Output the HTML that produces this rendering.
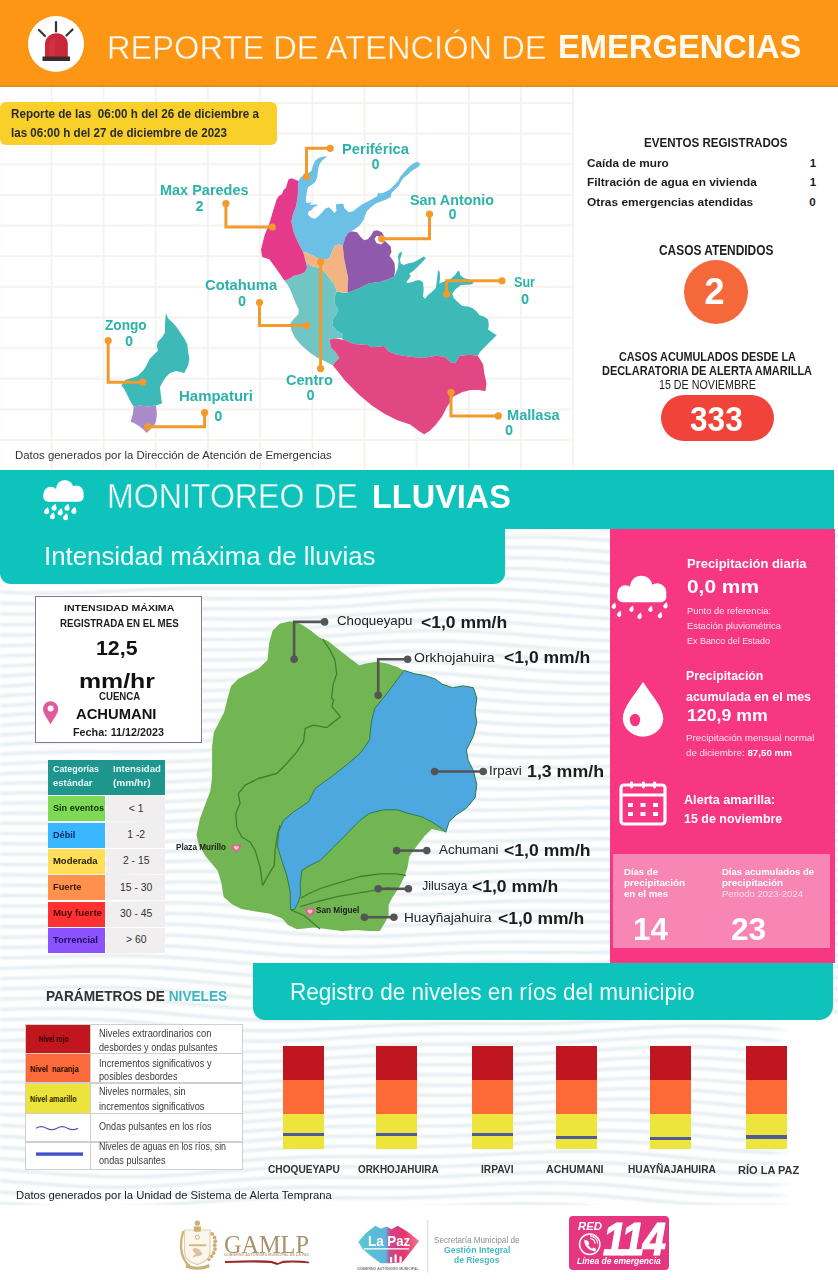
<!DOCTYPE html>
<html><head><meta charset="utf-8"><title>Reporte de Atención de Emergencias</title>
<style>
html,body{margin:0;padding:0;}
body{width:838px;height:1280px;position:relative;overflow:hidden;background:#fff;font-family:'Liberation Sans', Arial, sans-serif;}
</style></head><body>
<svg width="838" height="676" viewBox="0 529 838 676" style="position:absolute;left:0;top:529px"><defs><filter id="wb" x="-5%" y="-5%" width="110%" height="110%"><feGaussianBlur stdDeviation="0.9"/></filter></defs><g fill="none" stroke="#e6eef1" stroke-width="3.4" filter="url(#wb)"><polyline points="0,524.0 20,525.9 40,527.6 60,529.0 80,529.9 100,530.3 120,530.2 140,529.8 160,529.1 180,528.3 200,527.5 220,526.9 240,526.6 260,526.5 280,526.6 300,526.9 320,527.1 340,527.2 360,527.0 380,526.5 400,525.5 420,524.2 440,522.6 460,520.9 480,519.2 500,517.8 520,516.7 540,516.2 560,516.2 580,516.7 600,517.7 620,519.0 640,520.4 660,521.8 680,523.0 700,523.9 720,524.5 740,524.7 760,524.7 780,524.7 800,524.6 820,524.6 840,525.0"/><polyline points="0,535.5 20,537.3 40,538.8 60,540.0 80,540.7 100,540.8 120,540.6 140,539.9 160,539.1 180,538.3 200,537.6 220,537.1 240,536.8 260,536.8 280,537.0 300,537.2 320,537.4 340,537.4 360,537.0 380,536.3 400,535.2 420,533.7 440,532.1 460,530.4 480,528.8 500,527.5 520,526.7 540,526.5 560,526.8 580,527.5 600,528.7 620,530.1 640,531.5 660,532.9 680,534.0 700,534.8 720,535.2 740,535.3 760,535.3 780,535.2 800,535.1 820,535.3 840,535.7"/><polyline points="0,546.9 20,548.6 40,550.0 60,550.9 80,551.3 100,551.2 120,550.8 140,550.0 160,549.2 180,548.3 200,547.7 220,547.2 240,547.1 260,547.1 280,547.4 300,547.6 320,547.7 340,547.5 360,547.0 380,546.0 400,544.8 420,543.2 440,541.5 460,539.9 480,538.5 500,537.4 520,536.9 540,536.9 560,537.5 580,538.5 600,539.8 620,541.3 640,542.7 660,544.0 680,544.9 700,545.6 720,545.9 740,545.9 760,545.8 780,545.7 800,545.8 820,546.0 840,546.6"/><polyline points="0,558.3 20,559.9 40,561.0 60,561.7 80,561.8 100,561.5 120,560.9 140,560.0 160,559.1 180,558.3 200,557.8 220,557.4 240,557.4 260,557.5 280,557.7 300,557.9 320,557.8 340,557.5 360,556.8 380,555.7 400,554.3 420,552.7 440,551.0 460,549.5 480,548.3 500,547.5 520,547.2 540,547.5 560,548.3 580,549.5 600,551.0 620,552.5 640,553.9 660,555.0 680,555.9 700,556.3 720,556.5 740,556.5 760,556.3 780,556.3 800,556.4 820,556.8 840,557.4"/><polyline points="0,569.6 20,571.0 40,571.9 60,572.3 80,572.2 100,571.7 120,571.0 140,570.0 160,569.1 180,568.4 200,567.9 220,567.6 240,567.7 260,567.8 280,568.0 300,568.1 320,567.9 340,567.4 360,566.6 380,565.3 400,563.8 420,562.2 440,560.6 460,559.2 480,558.2 500,557.7 520,557.7 540,558.3 560,559.3 580,560.7 600,562.2 620,563.7 640,565.0 660,566.0 680,566.7 700,567.0 720,567.1 740,567.0 760,566.9 780,566.9 800,567.1 820,567.5 840,568.3"/><polyline points="0,580.9 20,582.0 40,582.7 60,582.9 80,582.5 100,581.8 120,580.9 140,580.0 160,579.1 180,578.4 200,578.0 220,577.9 240,578.0 260,578.2 280,578.3 300,578.3 320,578.0 340,577.3 360,576.3 380,574.9 400,573.3 420,571.7 440,570.2 460,569.0 480,568.2 500,568.0 520,568.3 540,569.2 560,570.4 580,571.9 600,573.4 620,574.9 640,576.1 660,577.0 680,577.5 700,577.7 720,577.6 740,577.5 760,577.4 780,577.5 800,577.8 820,578.4 840,579.2"/><polyline points="0,592.0 20,592.9 40,593.3 60,593.2 80,592.7 100,591.9 120,590.9 140,589.9 160,589.1 180,588.5 200,588.2 220,588.2 240,588.3 260,588.5 280,588.5 300,588.4 320,587.9 340,587.1 360,585.9 380,584.4 400,582.8 420,581.3 440,579.9 460,578.9 480,578.4 500,578.5 520,579.1 540,580.2 560,581.6 580,583.1 600,584.7 620,586.0 640,587.1 660,587.8 680,588.2 700,588.3 720,588.2 740,588.0 760,587.9 780,588.1 800,588.5 820,589.2 840,590.1"/><polyline points="0,603.0 20,603.7 40,603.8 60,603.5 80,602.8 100,601.8 120,600.8 140,599.8 160,599.1 180,598.6 200,598.4 220,598.5 240,598.6 260,598.7 280,598.7 300,598.4 320,597.8 340,596.8 360,595.5 380,594.0 400,592.4 420,590.9 440,589.8 460,589.0 480,588.8 500,589.1 520,590.0 540,591.3 560,592.8 580,594.4 600,595.9 620,597.1 640,598.1 660,598.6 680,598.8 700,598.8 720,598.7 740,598.5 760,598.5 780,598.8 800,599.3 820,600.1 840,601.0"/><polyline points="0,613.9 20,614.3 40,614.2 60,613.6 80,612.8 100,611.7 120,610.7 140,609.8 160,609.1 180,608.8 200,608.7 220,608.8 240,608.9 260,609.0 280,608.8 300,608.4 320,607.6 340,606.5 360,605.1 380,603.5 400,602.0 420,600.7 440,599.7 460,599.2 480,599.3 500,599.9 520,601.0 540,602.4 560,604.0 580,605.6 600,607.1 620,608.2 640,608.9 660,609.3 680,609.4 700,609.3 720,609.1 740,609.0 760,609.1 780,609.5 800,610.1 820,610.9 840,611.9"/><polyline points="0,624.7 20,624.8 40,624.4 60,623.7 80,622.7 100,621.6 120,620.6 140,619.8 160,619.2 180,619.0 200,618.9 220,619.0 240,619.2 260,619.2 280,618.9 300,618.3 320,617.4 340,616.1 360,614.6 380,613.1 400,611.7 420,610.5 440,609.8 460,609.6 480,610.0 500,610.9 520,612.1 540,613.7 560,615.3 580,616.9 600,618.2 620,619.2 640,619.8 660,620.0 680,620.0 700,619.8 720,619.6 740,619.6 760,619.7 780,620.2 800,620.9 820,621.8 840,622.7"/><polyline points="0,635.3 20,635.2 40,634.6 60,633.6 80,632.5 100,631.4 120,630.5 140,629.8 160,629.3 180,629.2 200,629.2 220,629.3 240,629.4 260,629.3 280,628.9 300,628.2 320,627.1 340,625.7 360,624.2 380,622.7 400,621.4 420,620.5 440,620.1 460,620.1 480,620.8 500,621.9 520,623.4 540,625.0 560,626.6 580,628.1 600,629.3 620,630.1 640,630.5 660,630.6 680,630.5 700,630.3 720,630.1 740,630.1 760,630.4 780,630.9 800,631.7 820,632.6 840,633.5"/><polyline points="0,645.8 20,645.4 40,644.6 60,643.5 80,642.4 100,641.3 120,640.4 140,639.8 160,639.5 180,639.4 200,639.5 220,639.6 240,639.6 260,639.4 280,638.8 300,637.9 320,636.7 340,635.3 360,633.8 380,632.4 400,631.3 420,630.6 440,630.5 460,630.8 480,631.7 500,633.0 520,634.6 540,636.3 560,637.9 580,639.3 600,640.3 620,640.9 640,641.2 660,641.1 680,640.9 700,640.7 720,640.6 740,640.7 760,641.1 780,641.7 800,642.5 820,643.4 840,644.2"/><polyline points="0,656.1 20,655.5 40,654.5 60,653.4 80,652.2 100,651.2 120,650.4 140,649.9 160,649.6 180,649.6 200,649.8 220,649.8 240,649.7 260,649.4 280,648.7 300,647.7 320,646.4 340,644.9 360,643.5 380,642.2 400,641.3 420,640.9 440,641.0 460,641.7 480,642.8 500,644.3 520,645.9 540,647.6 560,649.1 580,650.4 600,651.2 620,651.6 640,651.8 660,651.6 680,651.4 700,651.2 720,651.1 740,651.3 760,651.8 780,652.5 800,653.3 820,654.2 840,654.9"/><polyline points="0,666.3 20,665.4 40,664.4 60,663.1 80,662.0 100,661.0 120,660.4 140,660.0 160,659.9 180,659.9 200,660.0 220,660.0 240,659.8 260,659.3 280,658.5 300,657.4 320,656.0 340,654.6 360,653.2 380,652.1 400,651.5 420,651.3 440,651.7 460,652.6 480,654.0 500,655.6 520,657.3 540,658.9 560,660.3 580,661.4 600,662.0 620,662.3 640,662.3 660,662.1 680,661.8 700,661.6 720,661.7 740,662.0 760,662.5 780,663.3 800,664.1 820,664.9 840,665.4"/><polyline points="0,676.3 20,675.3 40,674.1 60,672.9 80,671.8 100,671.0 120,670.4 140,670.1 160,670.1 180,670.2 200,670.3 220,670.2 240,669.9 260,669.2 280,668.3 300,667.0 320,665.6 340,664.2 360,663.0 380,662.2 400,661.7 420,661.9 440,662.5 460,663.7 480,665.2 500,666.9 520,668.6 540,670.2 560,671.4 580,672.3 600,672.8 620,672.9 640,672.8 660,672.5 680,672.2 700,672.1 720,672.3 740,672.6 760,673.3 780,674.0 800,674.8 820,675.5 840,675.8"/><polyline points="0,686.3 20,685.2 40,683.9 60,682.7 80,681.7 100,680.9 120,680.5 140,680.3 160,680.3 180,680.4 200,680.5 220,680.3 240,679.9 260,679.1 280,678.0 300,676.7 320,675.3 340,674.0 360,673.0 380,672.3 400,672.2 420,672.6 440,673.5 460,674.9 480,676.5 500,678.3 520,680.0 540,681.4 560,682.5 580,683.2 600,683.5 620,683.4 640,683.2 660,682.9 680,682.7 700,682.6 720,682.8 740,683.3 760,684.0 780,684.8 800,685.5 820,686.0 840,686.1"/><polyline points="0,696.2 20,694.9 40,693.6 60,692.5 80,691.5 100,690.9 120,690.6 140,690.5 160,690.6 180,690.7 200,690.6 220,690.4 240,689.8 260,688.9 280,687.7 300,686.4 320,685.0 340,683.8 360,683.0 380,682.6 400,682.8 420,683.4 440,684.6 460,686.2 480,687.9 500,689.6 520,691.2 540,692.5 560,693.4 580,693.9 600,694.0 620,693.9 640,693.6 660,693.3 680,693.1 700,693.2 720,693.5 740,694.0 760,694.7 780,695.4 800,696.0 820,696.4 840,696.3"/><polyline points="0,706.0 20,704.6 40,703.4 60,702.3 80,701.5 100,701.0 120,700.8 140,700.8 160,700.9 180,700.9 200,700.8 220,700.4 240,699.7 260,698.6 280,697.4 300,696.1 320,694.8 340,693.8 360,693.2 380,693.1 400,693.5 420,694.4 440,695.8 460,697.5 480,699.3 500,701.0 520,702.5 540,703.6 560,704.3 580,704.6 600,704.6 620,704.3 640,704.0 660,703.7 680,703.6 700,703.7 720,704.1 740,704.7 760,705.4 780,706.1 800,706.5 820,706.7 840,706.4"/><polyline points="0,715.7 20,714.3 40,713.1 60,712.1 80,711.4 100,711.1 120,711.0 140,711.0 160,711.1 180,711.1 200,710.9 220,710.3 240,709.5 260,708.4 280,707.1 300,705.8 320,704.7 340,703.9 360,703.5 380,703.7 400,704.4 420,705.6 440,707.1 460,708.9 480,710.7 500,712.3 520,713.6 540,714.5 560,715.1 580,715.2 600,715.0 620,714.7 640,714.3 660,714.1 680,714.0 700,714.3 720,714.7 740,715.4 760,716.0 780,716.6 800,716.9 820,716.9 840,716.3"/><polyline points="0,725.4 20,724.0 40,722.9 60,722.0 80,721.5 100,721.2 120,721.2 140,721.3 160,721.4 180,721.3 200,720.9 220,720.3 240,719.3 260,718.1 280,716.8 300,715.6 320,714.7 340,714.1 360,714.0 380,714.4 400,715.4 420,716.8 440,718.5 460,720.3 480,722.0 500,723.5 520,724.7 540,725.4 560,725.7 580,725.7 600,725.4 620,725.0 640,724.7 660,724.5 680,724.5 700,724.9 720,725.4 740,726.0 760,726.6 780,727.1 800,727.2 820,726.9 840,726.2"/><polyline points="0,735.0 20,733.7 40,732.7 60,731.9 80,731.5 100,731.4 120,731.4 140,731.5 160,731.6 180,731.4 200,730.9 220,730.1 240,729.1 260,727.9 280,726.6 300,725.5 320,724.8 340,724.4 360,724.6 380,725.3 400,726.5 420,728.1 440,729.9 460,731.7 480,733.3 500,734.7 520,735.7 540,736.2 560,736.3 580,736.1 600,735.7 620,735.3 640,735.0 660,734.9 680,735.1 700,735.5 720,736.0 740,736.6 760,737.2 780,737.5 800,737.4 820,736.9 840,735.9"/><polyline points="0,744.7 20,743.5 40,742.5 60,741.9 80,741.7 100,741.6 120,741.7 140,741.8 160,741.7 180,741.4 200,740.9 220,740.0 240,738.9 260,737.6 280,736.5 300,735.5 320,735.0 340,734.9 360,735.3 380,736.3 400,737.7 420,739.4 440,741.3 460,743.0 480,744.6 500,745.8 520,746.5 540,746.8 560,746.8 580,746.5 600,746.1 620,745.7 640,745.4 660,745.4 680,745.6 700,746.1 720,746.6 740,747.2 760,747.6 780,747.7 800,747.4 820,746.7 840,745.5"/><polyline points="0,754.4 20,753.3 40,752.5 60,752.0 80,751.8 100,751.9 120,752.0 140,752.0 160,751.9 180,751.5 200,750.8 220,749.8 240,748.6 260,747.5 280,746.4 300,745.7 320,745.3 340,745.5 360,746.2 380,747.5 400,749.1 420,750.9 440,752.7 460,754.4 480,755.8 500,756.8 520,757.3 540,757.4 560,757.2 580,756.8 600,756.4 620,756.0 640,755.8 660,755.9 680,756.2 700,756.7 720,757.2 740,757.7 760,758.0 780,757.9 800,757.4 820,756.4 840,755.0"/><polyline points="0,764.1 20,763.1 40,762.4 60,762.1 80,762.0 100,762.1 120,762.2 140,762.2 160,762.0 180,761.5 200,760.6 220,759.6 240,758.4 260,757.3 280,756.4 300,755.9 320,755.8 340,756.3 360,757.3 380,758.7 400,760.4 420,762.3 440,764.1 460,765.7 480,766.9 500,767.6 520,768.0 540,767.9 560,767.6 580,767.1 600,766.6 620,766.3 640,766.2 660,766.3 680,766.7 700,767.2 720,767.8 740,768.1 760,768.2 780,768.0 800,767.2 820,766.0 840,764.5"/><polyline points="0,773.8 20,773.0 40,772.5 60,772.3 80,772.3 100,772.4 120,772.5 140,772.4 160,772.1 180,771.4 200,770.5 220,769.4 240,768.3 260,767.3 280,766.6 300,766.3 320,766.5 340,767.2 360,768.4 380,770.0 400,771.9 420,773.7 440,775.4 460,776.8 480,777.8 500,778.4 520,778.5 540,778.3 560,777.9 580,777.3 600,776.9 620,776.6 640,776.6 660,776.9 680,777.3 700,777.8 720,778.2 740,778.5 760,778.4 780,777.9 800,776.9 820,775.6 840,773.9"/><polyline points="0,783.6 20,782.9 40,782.5 60,782.5 80,782.6 100,782.7 120,782.7 140,782.5 160,782.1 180,781.3 200,780.4 220,779.3 240,778.2 260,777.4 280,776.8 300,776.8 320,777.3 340,778.3 360,779.7 380,781.4 400,783.3 420,785.1 440,786.7 460,787.9 480,788.7 500,789.1 520,789.0 540,788.6 560,788.1 580,787.6 600,787.2 620,787.0 640,787.1 660,787.4 680,787.8 700,788.3 720,788.7 740,788.7 760,788.5 780,787.7 800,786.6 820,785.0 840,783.3"/><polyline points="0,793.5 20,792.9 40,792.7 60,792.7 80,792.9 100,793.0 120,792.9 140,792.6 160,792.1 180,791.2 200,790.2 220,789.2 240,788.2 260,787.5 280,787.2 300,787.5 320,788.2 340,789.4 360,791.0 380,792.9 400,794.7 420,796.5 440,797.9 460,798.9 480,799.5 500,799.6 520,799.4 540,798.9 560,798.3 580,797.8 600,797.5 620,797.4 640,797.5 660,797.9 680,798.3 700,798.8 720,799.0 740,798.9 760,798.4 780,797.5 800,796.1 820,794.4 840,792.6"/><polyline points="0,803.4 20,803.0 40,802.9 60,803.0 80,803.2 100,803.2 120,803.1 140,802.7 160,802.0 180,801.1 200,800.1 220,799.1 240,798.3 260,797.8 280,797.8 300,798.3 320,799.2 340,800.7 360,802.4 380,804.3 400,806.2 420,807.8 440,809.0 460,809.8 480,810.2 500,810.1 520,809.7 540,809.1 560,808.5 580,808.1 600,807.8 620,807.8 640,808.0 660,808.4 680,808.8 700,809.1 720,809.2 740,808.9 760,808.2 780,807.1 800,805.6 820,803.8 840,802.0"/><polyline points="0,813.4 20,813.1 40,813.2 60,813.3 80,813.5 100,813.5 120,813.2 140,812.7 160,812.0 180,811.0 200,810.0 220,809.1 240,808.5 260,808.2 280,808.4 300,809.2 320,810.4 340,812.0 360,813.9 380,815.8 400,817.5 420,819.0 440,820.0 460,820.6 480,820.7 500,820.4 520,819.9 540,819.3 560,818.7 580,818.3 600,818.1 620,818.2 640,818.5 660,818.9 680,819.3 700,819.5 720,819.4 740,818.9 760,818.0 780,816.7 800,815.0 820,813.2 840,811.4"/><polyline points="0,823.4 20,823.3 40,823.4 60,823.6 80,823.7 100,823.7 120,823.4 140,822.8 160,821.9 180,821.0 200,820.0 220,819.2 240,818.8 260,818.8 280,819.3 300,820.3 320,821.7 340,823.4 360,825.3 380,827.2 400,828.8 420,830.1 440,830.9 460,831.2 480,831.1 500,830.7 520,830.1 540,829.5 560,828.9 580,828.6 600,828.5 620,828.6 640,829.0 660,829.3 680,829.6 700,829.7 720,829.4 740,828.7 760,827.6 780,826.2 800,824.4 820,822.6 840,820.9"/><polyline points="0,833.6 20,833.6 40,833.8 60,833.9 80,834.0 100,833.9 120,833.4 140,832.8 160,831.9 180,830.9 200,830.1 220,829.4 240,829.2 260,829.4 280,830.2 300,831.4 320,833.0 340,834.9 360,836.8 380,838.6 400,840.0 420,841.1 440,841.7 460,841.8 480,841.5 500,840.9 520,840.3 540,839.6 560,839.1 580,838.9 600,838.8 620,839.1 640,839.4 660,839.8 680,839.9 700,839.9 720,839.4 740,838.5 760,837.2 780,835.6 800,833.8 820,832.1 840,830.5"/><polyline points="0,843.8 20,843.9 40,844.1 60,844.3 80,844.3 100,844.0 120,843.5 140,842.7 160,841.8 180,840.9 200,840.2 220,839.8 240,839.8 260,840.3 280,841.3 300,842.7 320,844.5 340,846.4 360,848.2 380,849.9 400,851.1 420,852.0 440,852.3 460,852.2 480,851.7 500,851.1 520,850.4 540,849.8 560,849.3 580,849.2 600,849.2 620,849.5 640,849.8 660,850.1 680,850.2 700,849.9 720,849.2 740,848.2 760,846.7 780,845.0 800,843.2 820,841.6 840,840.1"/><polyline points="0,854.0 20,854.2 40,854.4 60,854.6 80,854.5 100,854.1 120,853.5 140,852.7 160,851.8 180,851.0 200,850.4 220,850.2 240,850.5 260,851.2 280,852.4 300,854.1 320,855.9 340,857.8 360,859.6 380,861.1 400,862.1 420,862.7 440,862.8 460,862.5 480,861.9 500,861.2 520,860.5 540,859.9 560,859.6 580,859.5 600,859.6 620,859.9 640,860.2 660,860.4 680,860.3 700,859.9 720,859.0 740,857.8 760,856.2 780,854.4 800,852.7 820,851.1 840,849.9"/><polyline points="0,864.3 20,864.6 40,864.8 60,864.9 80,864.7 100,864.2 120,863.6 140,862.7 160,861.9 180,861.2 200,860.8 220,860.8 240,861.3 260,862.3 280,863.7 300,865.5 320,867.4 340,869.3 360,870.9 380,872.2 400,873.0 420,873.4 440,873.2 460,872.7 480,872.0 500,871.3 520,870.6 540,870.1 560,869.8 580,869.8 600,870.0 620,870.3 640,870.6 660,870.6 680,870.4 700,869.7 720,868.7 740,867.3 760,865.6 780,863.9 800,862.2 820,860.8 840,859.8"/><polyline points="0,874.7 20,875.0 40,875.1 60,875.1 80,874.8 100,874.3 120,873.6 140,872.8 160,872.0 180,871.4 200,871.2 220,871.5 240,872.2 260,873.5 280,875.1 300,876.9 320,878.8 340,880.6 360,882.1 380,883.2 400,883.8 420,883.9 440,883.5 460,882.9 480,882.1 500,881.3 520,880.7 540,880.3 560,880.1 580,880.2 600,880.4 620,880.7 640,880.9 660,880.8 680,880.3 700,879.5 720,878.3 740,876.8 760,875.1 780,873.4 800,871.8 820,870.6 840,869.9"/><polyline points="0,885.1 20,885.3 40,885.5 60,885.4 80,885.0 100,884.4 120,883.6 140,882.8 160,882.2 180,881.8 200,881.8 220,882.3 240,883.3 260,884.8 280,886.5 300,888.4 320,890.3 340,891.9 360,893.2 380,894.1 400,894.4 420,894.3 440,893.7 460,893.0 480,892.2 500,891.4 520,890.8 540,890.5 560,890.4 580,890.6 600,890.8 620,891.0 640,891.1 660,890.8 680,890.2 700,889.2 720,887.9 740,886.2 760,884.5 780,882.9 800,881.5 820,880.6 840,880.1"/><polyline points="0,895.5 20,895.7 40,895.8 60,895.6 80,895.1 100,894.5 120,893.7 140,893.0 160,892.5 180,892.3 200,892.5 220,893.3 240,894.5 260,896.1 280,898.0 300,899.9 320,901.7 340,903.2 360,904.2 380,904.8 400,904.9 420,904.5 440,903.9 460,903.0 480,902.2 500,901.5 520,901.0 540,900.7 560,900.7 580,900.9 600,901.2 620,901.3 640,901.2 660,900.8 680,900.0 700,898.9 720,897.4 740,895.7 760,894.0 780,892.5 800,891.3 820,890.6 840,890.5"/><polyline points="0,905.9 20,906.1 40,906.0 60,905.8 80,905.2 100,904.5 120,903.8 140,903.2 160,902.8 180,902.9 200,903.4 220,904.4 240,905.8 260,907.5 280,909.4 300,911.3 320,913.0 340,914.3 360,915.1 380,915.4 400,915.3 420,914.7 440,913.9 460,913.0 480,912.2 500,911.5 520,911.1 540,911.0 560,911.1 580,911.3 600,911.5 620,911.5 640,911.3 660,910.7 680,909.8 700,908.4 720,906.9 740,905.2 760,903.6 780,902.2 800,901.3 820,900.9 840,901.0"/><polyline points="0,916.3 20,916.4 40,916.3 60,915.9 80,915.4 100,914.7 120,914.0 140,913.5 160,913.3 180,913.6 200,914.3 220,915.6 240,917.1 260,919.0 280,920.9 300,922.7 320,924.2 340,925.3 360,925.8 380,925.9 400,925.5 420,924.8 440,923.9 460,923.0 480,922.2 500,921.6 520,921.3 540,921.3 560,921.4 580,921.6 600,921.8 620,921.7 640,921.3 660,920.5 680,919.4 700,918.0 720,916.3 740,914.7 760,913.2 780,912.1 800,911.4 820,911.2 840,911.6"/><polyline points="0,926.7 20,926.8 40,926.5 60,926.1 80,925.5 100,924.8 120,924.2 140,923.9 160,923.9 180,924.4 200,925.4 220,926.8 240,928.6 260,930.4 280,932.3 300,934.0 320,935.3 340,936.1 360,936.4 380,936.3 400,935.7 420,934.8 440,933.9 460,933.0 480,932.2 500,931.8 520,931.6 540,931.6 560,931.7 580,931.9 600,932.0 620,931.8 640,931.2 660,930.3 680,929.0 700,927.5 720,925.8 740,924.3 760,923.0 780,922.0 800,921.6 820,921.8 840,922.4"/><polyline points="0,937.1 20,937.1 40,936.8 60,936.3 80,935.6 100,935.0 120,934.6 140,934.4 160,934.7 180,935.4 200,936.6 220,938.2 240,940.0 260,941.9 280,943.7 300,945.2 320,946.3 340,946.8 360,946.9 380,946.5 400,945.7 420,944.8 440,943.8 460,942.9 480,942.3 500,941.9 520,941.8 540,941.9 560,942.1 580,942.2 600,942.1 620,941.8 640,941.1 660,940.0 680,938.6 700,937.0 720,935.4 740,933.9 760,932.8 780,932.2 800,932.0 820,932.4 840,933.4"/><polyline points="0,947.5 20,947.3 40,947.0 60,946.4 80,945.8 100,945.3 120,945.0 140,945.0 160,945.5 180,946.5 200,947.9 220,949.6 240,951.5 260,953.3 280,955.0 300,956.3 320,957.1 340,957.4 360,957.2 380,956.6 400,955.7 420,954.7 440,953.7 460,952.9 480,952.4 500,952.1 520,952.1 540,952.2 560,952.4 580,952.4 600,952.2 620,951.7 640,950.8 660,949.6 680,948.1 700,946.5 720,945.0 740,943.7 760,942.8 780,942.4 800,942.6 820,943.3 840,944.4"/><polyline points="0,957.8 20,957.6 40,957.2 60,956.6 80,956.0 100,955.6 120,955.5 140,955.8 160,956.5 180,957.7 200,959.2 220,961.0 240,962.9 260,964.7 280,966.2 300,967.3 320,967.8 340,967.9 360,967.4 380,966.7 400,965.7 420,964.6 440,963.7 460,962.9 480,962.5 500,962.3 520,962.4 540,962.5 560,962.6 580,962.6 600,962.2 620,961.6 640,960.5 660,959.2 680,957.7 700,956.1 720,954.7 740,953.6 760,952.9 780,952.8 800,953.3 820,954.2 840,955.5"/><polyline points="0,968.2 20,967.9 40,967.4 60,966.8 80,966.3 100,966.0 120,966.1 140,966.6 160,967.5 180,968.9 200,970.6 220,972.5 240,974.3 260,976.0 280,977.3 300,978.1 320,978.4 340,978.2 360,977.5 380,976.6 400,975.5 420,974.5 440,973.6 460,973.0 480,972.6 500,972.6 520,972.7 540,972.8 560,972.8 580,972.7 600,972.2 620,971.4 640,970.2 660,968.8 680,967.2 700,965.7 720,964.5 740,963.6 760,963.2 780,963.4 800,964.1 820,965.3 840,966.8"/><polyline points="0,978.5 20,978.1 40,977.6 60,977.1 80,976.7 100,976.6 120,976.8 140,977.6 160,978.7 180,980.3 200,982.0 220,983.9 240,985.7 260,987.2 280,988.2 300,988.8 320,988.8 340,988.4 360,987.6 380,986.5 400,985.4 420,984.4 440,983.6 460,983.1 480,982.8 500,982.8 520,982.9 540,983.1 560,983.0 580,982.7 600,982.1 620,981.1 640,979.8 660,978.3 680,976.8 700,975.4 720,974.4 740,973.7 760,973.7 780,974.1 800,975.1 820,976.4 840,978.0"/><polyline points="0,988.8 20,988.4 40,987.9 60,987.4 80,987.1 100,987.2 120,987.7 140,988.6 160,990.0 180,991.6 200,993.5 220,995.3 240,997.0 260,998.3 280,999.1 300,999.4 320,999.1 340,998.5 360,997.5 380,996.4 400,995.2 420,994.3 440,993.6 460,993.2 480,993.0 500,993.1 520,993.2 540,993.3 560,993.1 580,992.7 600,991.9 620,990.8 640,989.4 660,987.9 680,986.5 700,985.2 720,984.4 740,984.0 760,984.2 780,985.0 800,986.2 820,987.7 840,989.3"/><polyline points="0,999.1 20,998.6 40,998.1 60,997.8 80,997.7 100,997.9 120,998.6 140,999.8 160,1001.3 180,1003.1 200,1004.9 220,1006.7 240,1008.2 260,1009.2 280,1009.8 300,1009.8 320,1009.3 340,1008.4 360,1007.3 380,1006.2 400,1005.1 420,1004.2 440,1003.6 460,1003.3 480,1003.3 500,1003.4 520,1003.5 540,1003.5 560,1003.2 580,1002.6 600,1001.7 620,1000.4 640,999.0 660,997.5 680,996.2 700,995.2 720,994.6 740,994.5 760,995.0 780,996.0 800,997.3 820,999.0 840,1000.7"/><polyline points="0,1009.4 20,1008.9 40,1008.5 60,1008.2 80,1008.3 100,1008.8 120,1009.7 140,1011.0 160,1012.7 180,1014.5 200,1016.3 220,1017.9 240,1019.2 260,1020.0 280,1020.3 300,1020.0 320,1019.3 340,1018.3 360,1017.1 380,1016.0 400,1014.9 420,1014.2 440,1013.7 460,1013.5 480,1013.5 500,1013.6 520,1013.7 540,1013.6 560,1013.2 580,1012.5 600,1011.4 620,1010.1 640,1008.6 660,1007.2 680,1006.0 700,1005.2 720,1004.9 740,1005.1 760,1005.8 780,1007.1 800,1008.6 820,1010.3 840,1012.0"/><polyline points="0,1019.6 20,1019.2 40,1018.9 60,1018.8 80,1019.1 100,1019.7 120,1020.8 140,1022.3 160,1024.1 180,1025.9 200,1027.6 220,1029.1 240,1030.2 260,1030.7 280,1030.7 300,1030.2 320,1029.3 340,1028.1 360,1026.9 380,1025.8 400,1024.8 420,1024.2 440,1023.8 460,1023.7 480,1023.8 500,1023.9 520,1023.9 540,1023.7 560,1023.1 580,1022.3 600,1021.1 620,1019.7 640,1018.3 660,1017.0 680,1016.0 700,1015.4 720,1015.4 740,1015.8 760,1016.9 780,1018.3 800,1019.9 820,1021.6 840,1023.3"/><polyline points="0,1030.0 20,1029.6 40,1029.4 60,1029.4 80,1029.9 100,1030.8 120,1032.1 140,1033.7 160,1035.5 180,1037.3 200,1038.9 220,1040.2 240,1041.0 260,1041.2 280,1040.9 300,1040.2 320,1039.2 340,1037.9 360,1036.7 380,1035.6 400,1034.8 420,1034.2 440,1034.0 460,1034.0 480,1034.1 500,1034.1 520,1034.0 540,1033.7 560,1033.0 580,1032.0 600,1030.8 620,1029.4 640,1028.0 660,1026.9 680,1026.1 700,1025.7 720,1026.0 740,1026.7 760,1028.0 780,1029.5 800,1031.3 820,1033.0 840,1034.5"/><polyline points="0,1040.3 20,1040.0 40,1039.9 60,1040.2 80,1040.8 100,1041.9 120,1043.4 140,1045.1 160,1046.9 180,1048.6 200,1050.1 220,1051.1 240,1051.6 260,1051.6 280,1051.1 300,1050.1 320,1048.9 340,1047.7 360,1046.5 380,1045.4 400,1044.7 420,1044.3 440,1044.2 460,1044.2 480,1044.3 500,1044.3 520,1044.1 540,1043.7 560,1042.8 580,1041.7 600,1040.4 620,1039.1 640,1037.8 660,1036.8 680,1036.3 700,1036.2 720,1036.7 740,1037.8 760,1039.2 780,1040.9 800,1042.6 820,1044.3 840,1045.7"/><polyline points="0,1050.7 20,1050.5 40,1050.6 60,1051.0 80,1051.9 100,1053.1 120,1054.7 140,1056.5 160,1058.3 180,1059.9 200,1061.1 220,1061.9 240,1062.1 260,1061.8 280,1061.1 300,1060.0 320,1058.7 340,1057.4 360,1056.2 380,1055.3 400,1054.7 420,1054.5 440,1054.4 460,1054.5 480,1054.6 500,1054.5 520,1054.2 540,1053.6 560,1052.6 580,1051.4 600,1050.1 620,1048.8 640,1047.7 660,1046.9 680,1046.6 700,1046.9 720,1047.7 740,1048.9 760,1050.5 780,1052.3 800,1054.0 820,1055.6 840,1056.8"/><polyline points="0,1061.1 20,1061.0 40,1061.3 60,1061.9 80,1063.0 100,1064.4 120,1066.1 140,1067.9 160,1069.6 180,1071.0 200,1072.0 220,1072.5 240,1072.5 260,1071.9 280,1071.0 300,1069.7 320,1068.4 340,1067.1 360,1066.0 380,1065.3 400,1064.8 420,1064.6 440,1064.7 460,1064.8 480,1064.8 500,1064.6 520,1064.2 540,1063.4 560,1062.4 580,1061.1 600,1059.8 620,1058.6 640,1057.7 660,1057.2 680,1057.1 700,1057.7 720,1058.7 740,1060.1 760,1061.9 780,1063.6 800,1065.3 820,1066.8 840,1067.8"/><polyline points="0,1071.6 20,1071.7 40,1072.1 60,1073.0 80,1074.2 100,1075.7 120,1077.5 140,1079.2 160,1080.8 180,1082.0 200,1082.8 220,1083.0 240,1082.7 260,1081.9 280,1080.8 300,1079.4 320,1078.1 340,1076.9 360,1075.9 380,1075.2 400,1074.9 420,1074.8 440,1074.9 460,1075.0 480,1075.0 500,1074.7 520,1074.1 540,1073.3 560,1072.1 580,1070.9 600,1069.6 620,1068.5 640,1067.8 660,1067.5 680,1067.8 700,1068.6 720,1069.8 740,1071.5 760,1073.2 780,1075.0 800,1076.6 820,1077.9 840,1078.8"/><polyline points="0,1082.2 20,1082.4 40,1083.0 60,1084.1 80,1085.4 100,1087.1 120,1088.8 140,1090.5 160,1091.9 180,1092.9 200,1093.4 220,1093.4 240,1092.8 260,1091.8 280,1090.5 300,1089.1 320,1087.8 340,1086.6 360,1085.8 380,1085.3 400,1085.1 420,1085.1 440,1085.2 460,1085.2 480,1085.1 500,1084.7 520,1084.0 540,1083.1 560,1081.9 580,1080.6 600,1079.5 620,1078.6 640,1078.0 660,1078.0 680,1078.6 700,1079.6 720,1081.1 740,1082.8 760,1084.7 780,1086.4 800,1087.8 820,1088.9 840,1089.6"/><polyline points="0,1092.8 20,1093.2 40,1094.0 60,1095.2 80,1096.8 100,1098.4 120,1100.2 140,1101.7 160,1102.9 180,1103.7 200,1103.9 220,1103.6 240,1102.7 260,1101.6 280,1100.2 300,1098.8 320,1097.5 340,1096.5 360,1095.7 380,1095.4 400,1095.3 420,1095.3 440,1095.4 460,1095.4 480,1095.2 500,1094.7 520,1093.9 540,1092.8 560,1091.6 580,1090.4 600,1089.4 620,1088.7 640,1088.4 660,1088.7 680,1089.5 700,1090.8 720,1092.4 740,1094.2 760,1096.0 780,1097.7 800,1099.0 820,1099.9 840,1100.3"/><polyline points="0,1103.6 20,1104.1 40,1105.1 60,1106.5 80,1108.1 100,1109.8 120,1111.4 140,1112.8 160,1113.8 180,1114.3 200,1114.2 220,1113.6 240,1112.6 260,1111.3 280,1109.8 300,1108.4 320,1107.2 340,1106.3 360,1105.8 380,1105.5 400,1105.5 420,1105.6 440,1105.7 460,1105.6 480,1105.3 500,1104.7 520,1103.7 540,1102.6 560,1101.4 580,1100.3 600,1099.4 620,1099.0 640,1099.0 660,1099.5 680,1100.6 700,1102.1 720,1103.8 740,1105.7 760,1107.4 780,1108.9 800,1110.0 820,1110.7 840,1111.0"/><polyline points="0,1114.4 20,1115.1 40,1116.3 60,1117.8 80,1119.4 100,1121.1 120,1122.6 140,1123.8 160,1124.5 180,1124.7 200,1124.4 220,1123.5 240,1122.3 260,1120.9 280,1119.4 300,1118.1 320,1117.0 340,1116.2 360,1115.8 380,1115.7 400,1115.8 420,1115.9 440,1115.9 460,1115.7 480,1115.3 500,1114.6 520,1113.6 540,1112.4 560,1111.3 580,1110.3 600,1109.6 620,1109.4 640,1109.7 660,1110.5 680,1111.8 700,1113.4 720,1115.2 740,1117.1 760,1118.7 780,1120.1 800,1121.0 820,1121.5 840,1121.5"/><polyline points="0,1125.3 20,1126.2 40,1127.5 60,1129.1 80,1130.7 100,1132.3 120,1133.7 140,1134.7 160,1135.1 180,1135.0 200,1134.4 220,1133.4 240,1132.0 260,1130.5 280,1129.1 300,1127.8 320,1126.8 340,1126.2 360,1126.0 380,1125.9 400,1126.0 420,1126.1 440,1126.1 460,1125.8 480,1125.3 500,1124.4 520,1123.4 540,1122.3 560,1121.2 580,1120.4 600,1119.9 620,1119.9 640,1120.5 660,1121.6 680,1123.0 700,1124.8 720,1126.7 740,1128.5 760,1130.0 780,1131.1 800,1131.8 820,1132.1 840,1132.0"/><polyline points="0,1136.2 20,1137.3 40,1138.8 60,1140.4 80,1142.0 100,1143.5 120,1144.7 140,1145.4 160,1145.6 180,1145.2 200,1144.3 220,1143.1 240,1141.6 260,1140.1 280,1138.7 300,1137.5 320,1136.7 340,1136.3 360,1136.1 380,1136.2 400,1136.3 420,1136.4 440,1136.3 460,1135.9 480,1135.2 500,1134.3 520,1133.2 540,1132.1 560,1131.2 580,1130.5 600,1130.3 620,1130.6 640,1131.5 660,1132.8 680,1134.4 700,1136.3 720,1138.1 740,1139.8 760,1141.1 780,1142.1 800,1142.6 820,1142.6 840,1142.3"/><polyline points="0,1147.3 20,1148.5 40,1150.0 60,1151.7 80,1153.2 100,1154.6 120,1155.5 140,1156.0 160,1155.9 180,1155.2 200,1154.1 220,1152.7 240,1151.2 260,1149.7 280,1148.4 300,1147.4 320,1146.7 340,1146.4 360,1146.4 380,1146.5 400,1146.6 420,1146.6 440,1146.4 460,1145.9 480,1145.2 500,1144.2 520,1143.1 540,1142.1 560,1141.3 580,1140.9 600,1140.9 620,1141.5 640,1142.5 660,1144.0 680,1145.8 700,1147.7 720,1149.5 740,1151.0 760,1152.2 780,1152.9 800,1153.2 820,1153.0 840,1152.6"/><polyline points="0,1158.4 20,1159.8 40,1161.3 60,1162.9 80,1164.4 100,1165.5 120,1166.2 140,1166.4 160,1166.0 180,1165.1 200,1163.8 220,1162.3 240,1160.7 260,1159.3 280,1158.1 300,1157.2 320,1156.7 340,1156.6 360,1156.6 380,1156.8 400,1156.9 420,1156.8 440,1156.5 460,1155.9 480,1155.1 500,1154.1 520,1153.0 540,1152.1 560,1151.5 580,1151.3 600,1151.6 620,1152.4 640,1153.7 660,1155.4 680,1157.3 700,1159.1 720,1160.8 740,1162.2 760,1163.2 780,1163.6 800,1163.7 820,1163.4 840,1162.9"/><polyline points="0,1169.5 20,1171.0 40,1172.6 60,1174.1 80,1175.4 100,1176.4 120,1176.8 140,1176.7 160,1176.0 180,1174.9 200,1173.4 220,1171.8 240,1170.3 260,1168.9 280,1167.9 300,1167.2 320,1166.8 340,1166.8 360,1166.9 380,1167.1 400,1167.1 420,1167.0 440,1166.6 460,1165.9 480,1165.0 500,1164.0 520,1163.0 540,1162.2 560,1161.8 580,1161.9 600,1162.5 620,1163.5 640,1165.0 660,1166.8 680,1168.7 700,1170.5 720,1172.1 740,1173.3 760,1174.0 780,1174.3 800,1174.1 820,1173.7 840,1173.1"/><polyline points="0,1180.7 20,1182.3 40,1183.8 60,1185.2 80,1186.4 100,1187.0 120,1187.2 140,1186.8 160,1185.8 180,1184.5 200,1183.0 220,1181.4 240,1179.9 260,1178.6 280,1177.7 300,1177.2 320,1177.0 340,1177.0 360,1177.2 380,1177.4 400,1177.4 420,1177.1 440,1176.6 460,1175.8 480,1174.9 500,1173.9 520,1173.0 540,1172.5 560,1172.3 580,1172.6 600,1173.4 620,1174.7 640,1176.4 660,1178.3 680,1180.2 700,1181.9 720,1183.3 740,1184.2 760,1184.7 780,1184.8 800,1184.4 820,1183.9 840,1183.2"/><polyline points="0,1192.0 20,1193.5 40,1195.0 60,1196.3 80,1197.2 100,1197.6 120,1197.4 140,1196.7 160,1195.6 180,1194.1 200,1192.5 220,1190.9 240,1189.5 260,1188.4 280,1187.6 300,1187.3 320,1187.2 340,1187.4 360,1187.5 380,1187.7 400,1187.6 420,1187.2 440,1186.6 460,1185.8 480,1184.8 500,1183.9 520,1183.2 540,1182.8 560,1182.9 580,1183.5 600,1184.5 620,1186.0 640,1187.8 660,1189.7 680,1191.6 700,1193.2 720,1194.3 740,1195.1 760,1195.3 780,1195.2 800,1194.7 820,1194.1 840,1193.4"/><polyline points="0,1203.2 20,1204.7 40,1206.1 60,1207.2 80,1207.8 100,1208.0 120,1207.5 140,1206.6 160,1205.2 180,1203.7 200,1202.0 220,1200.5 240,1199.2 260,1198.2 280,1197.7 300,1197.4 320,1197.5 340,1197.7 360,1197.9 380,1197.9 400,1197.7 420,1197.3 440,1196.6 460,1195.7 480,1194.8 500,1194.0 520,1193.4 540,1193.3 560,1193.6 580,1194.4 600,1195.8 620,1197.4 640,1199.3 660,1201.2 680,1202.9 700,1204.3 720,1205.3 740,1205.8 760,1205.8 780,1205.5 800,1204.9 820,1204.2 840,1203.5"/><polyline points="0,1214.4 20,1215.9 40,1217.1 60,1218.0 80,1218.3 100,1218.2 120,1217.5 140,1216.3 160,1214.8 180,1213.1 200,1211.5 220,1210.0 240,1208.9 260,1208.1 280,1207.7 300,1207.7 320,1207.8 340,1208.0 360,1208.2 380,1208.2 400,1207.9 420,1207.4 440,1206.6 460,1205.7 480,1204.8 500,1204.2 520,1203.8 540,1203.9 560,1204.5 580,1205.6 600,1207.1 620,1208.9 640,1210.8 660,1212.6 680,1214.2 700,1215.4 720,1216.1 740,1216.4 760,1216.2 780,1215.7 800,1215.0 820,1214.3 840,1213.7"/></g></svg>
<div style="position:absolute;left:0px;top:87px;width:574px;height:382px;background:#fff;background-color:#fff;background-image:linear-gradient(to right,#f6f2ed 0,#f6f2ed 1.9px,transparent 1.9px),linear-gradient(to bottom,#f6f2ed 0,#f6f2ed 1.9px,transparent 1.9px);background-size:52.2px 30.65px;background-position:50.4px 15px;"></div><div style="position:absolute;left:0px;top:0px;width:838px;height:86.7px;background:#fd9515;"></div><div style="position:absolute;left:0px;top:85.4px;width:838px;height:1.3px;background:#ea8c1f;"></div><div style="position:absolute;left:28px;top:16px;width:56px;height:56px;border-radius:50%;background:#fff;"></div><div style="position:absolute;left:0;top:101.9px;width:277.2px;height:42.7px;background:#f9d02a;border-radius:6px;"></div><div style="position:absolute;left:683.5px;top:259.5px;width:64px;height:64px;border-radius:50%;background:#f4683a;"></div><div style="position:absolute;left:660.5px;top:395.4px;width:113.2px;height:45.4px;border-radius:23px;background:#f0433a;"></div><div style="position:absolute;left:770px;top:1020px;width:68px;height:190px;background:linear-gradient(to right,rgba(255,255,255,0),#fff 22px);"></div><div style="position:absolute;left:0px;top:469.8px;width:834px;height:59px;background:#0dc3bb;"></div><div style="position:absolute;left:0;top:528px;width:504.6px;height:55.5px;background:#0dc3bb;border-radius:0 0 11px 11px;"></div><div style="position:absolute;left:610.3px;top:528.7px;width:225.2px;height:434.4px;background:#f73781;"></div><div style="position:absolute;left:613.4px;top:853.9px;width:216.8px;height:94.1px;background:#f886b4;"></div><div style="position:absolute;left:35px;top:596px;width:164.8px;height:145.4px;background:#fff;border:1.5px solid #857699;"></div><div style="position:absolute;left:47.9px;top:759.5px;width:117.6px;height:35.1px;background:#1e958d;"></div><div style="position:absolute;left:47.9px;top:796.3px;width:57.4px;height:25.2px;background:#7ed957;"></div><div style="position:absolute;left:106.4px;top:796.3px;width:58.6px;height:25.2px;background:#f0eeee;"></div><div style="position:absolute;left:47.9px;top:822.5999999999999px;width:57.4px;height:25.2px;background:#38b6ff;"></div><div style="position:absolute;left:106.4px;top:822.5999999999999px;width:58.6px;height:25.2px;background:#f0eeee;"></div><div style="position:absolute;left:47.9px;top:848.9px;width:57.4px;height:25.2px;background:#ffde59;"></div><div style="position:absolute;left:106.4px;top:848.9px;width:58.6px;height:25.2px;background:#f0eeee;"></div><div style="position:absolute;left:47.9px;top:875.1999999999999px;width:57.4px;height:25.2px;background:#ff914d;"></div><div style="position:absolute;left:106.4px;top:875.1999999999999px;width:58.6px;height:25.2px;background:#f0eeee;"></div><div style="position:absolute;left:47.9px;top:901.5px;width:57.4px;height:25.2px;background:#ff3131;"></div><div style="position:absolute;left:106.4px;top:901.5px;width:58.6px;height:25.2px;background:#f0eeee;"></div><div style="position:absolute;left:47.9px;top:927.8px;width:57.4px;height:25.2px;background:#8c52ff;"></div><div style="position:absolute;left:106.4px;top:927.8px;width:58.6px;height:25.2px;background:#f0eeee;"></div><div style="position:absolute;left:253.1px;top:963.2px;width:579.7px;height:56.5px;background:#0dc3bb;border-radius:0 0 14px 12px;"></div><div style="position:absolute;left:25px;top:1024px;width:215.5px;height:143.6px;border:1.4px solid #cfcfcf;background:#fff;"></div><div style="position:absolute;left:25.7px;top:1024.7px;width:64.3px;height:28.89999999999991px;background:#c1161e;"></div><div style="position:absolute;left:25px;top:1052.9px;width:217px;height:1.4px;background:#cfcfcf;"></div><div style="position:absolute;left:25.7px;top:1054.3px;width:64.3px;height:28.70000000000009px;background:#fb6a3a;"></div><div style="position:absolute;left:25px;top:1082.3px;width:217px;height:1.4px;background:#cfcfcf;"></div><div style="position:absolute;left:25.7px;top:1083.7px;width:64.3px;height:30.000000000000046px;background:#ede43b;"></div><div style="position:absolute;left:25px;top:1113.0px;width:217px;height:1.4px;background:#cfcfcf;"></div><div style="position:absolute;left:25px;top:1141.3px;width:217px;height:1.4px;background:#cfcfcf;"></div><div style="position:absolute;left:25px;top:1168.7px;width:217px;height:1.4px;background:#cfcfcf;"></div><div style="position:absolute;left:90px;top:1024px;width:1.4px;height:145px;background:#cfcfcf;"></div><div style="position:absolute;left:282.7px;top:1045.7px;width:41px;height:34.4px;background:#bf1622;"></div><div style="position:absolute;left:282.7px;top:1080.1px;width:41px;height:34.1px;background:#fd6a36;"></div><div style="position:absolute;left:282.7px;top:1114.2px;width:41px;height:34.4px;background:#ede53b;"></div><div style="position:absolute;left:282.7px;top:1132.6000000000001px;width:41px;height:3.6px;background:#4d5b98;"></div><div style="position:absolute;left:376px;top:1045.7px;width:41px;height:34.4px;background:#bf1622;"></div><div style="position:absolute;left:376px;top:1080.1px;width:41px;height:34.1px;background:#fd6a36;"></div><div style="position:absolute;left:376px;top:1114.2px;width:41px;height:34.4px;background:#ede53b;"></div><div style="position:absolute;left:376px;top:1132.6000000000001px;width:41px;height:3.6px;background:#4d5b98;"></div><div style="position:absolute;left:471.5px;top:1045.7px;width:41px;height:34.4px;background:#bf1622;"></div><div style="position:absolute;left:471.5px;top:1080.1px;width:41px;height:34.1px;background:#fd6a36;"></div><div style="position:absolute;left:471.5px;top:1114.2px;width:41px;height:34.4px;background:#ede53b;"></div><div style="position:absolute;left:471.5px;top:1132.6000000000001px;width:41px;height:3.6px;background:#4d5b98;"></div><div style="position:absolute;left:555.7px;top:1045.7px;width:41px;height:34.4px;background:#bf1622;"></div><div style="position:absolute;left:555.7px;top:1080.1px;width:41px;height:34.1px;background:#fd6a36;"></div><div style="position:absolute;left:555.7px;top:1114.2px;width:41px;height:34.4px;background:#ede53b;"></div><div style="position:absolute;left:555.7px;top:1135.8px;width:41px;height:3.6px;background:#4d5b98;"></div><div style="position:absolute;left:649.6px;top:1045.7px;width:41px;height:34.4px;background:#bf1622;"></div><div style="position:absolute;left:649.6px;top:1080.1px;width:41px;height:34.1px;background:#fd6a36;"></div><div style="position:absolute;left:649.6px;top:1114.2px;width:41px;height:34.4px;background:#ede53b;"></div><div style="position:absolute;left:649.6px;top:1136.8px;width:41px;height:3.6px;background:#4d5b98;"></div><div style="position:absolute;left:745.5px;top:1045.7px;width:41px;height:34.4px;background:#bf1622;"></div><div style="position:absolute;left:745.5px;top:1080.1px;width:41px;height:34.1px;background:#fd6a36;"></div><div style="position:absolute;left:745.5px;top:1114.2px;width:41px;height:34.4px;background:#ede53b;"></div><div style="position:absolute;left:745.5px;top:1135.1000000000001px;width:41px;height:3.6px;background:#4d5b98;"></div><div style="position:absolute;left:569.3px;top:1216.2px;width:99.7px;height:54px;border-radius:4px;background:#e5377f;"></div>
<svg width="838" height="1280" viewBox="0 0 838 1280" style="position:absolute;left:0;top:0">
<g><line x1="56" y1="22" x2="56" y2="31.5" stroke="#3a3434" stroke-width="2.2" stroke-linecap="round"/><line x1="39" y1="30" x2="45" y2="36" stroke="#3a3434" stroke-width="2.2" stroke-linecap="round"/><line x1="72.5" y1="29.5" x2="66.5" y2="35.5" stroke="#3a3434" stroke-width="2.2" stroke-linecap="round"/><path d="M45 57.5 V44 A11.2 10.5 0 0 1 67.8 44 V57.5 Z" fill="#c8283a"/><path d="M49 56 V45 A7 7 0 0 1 55 38.5 V56 Z" fill="#d7374a" opacity="0.6"/><rect x="42.5" y="56.5" width="27.5" height="4.5" fill="#3d2a2c"/></g><g fill="#fff"><circle cx="50.8" cy="494.2" r="7.4"/><circle cx="64.8" cy="488.6" r="8.7"/><circle cx="76.3" cy="493" r="7.4"/><rect x="43.3" y="491.5" width="40.4" height="10.2" rx="5"/><path d="M46.8 507 q2.6 3.2 2.6 4.6 a2.6 2.6 0 0 1 -5.2 0 q0 -1.4 2.6 -4.6z" transform="rotate(15 46.8 511)"/><path d="M54.3 503.5 q2.6 3.2 2.6 4.6 a2.6 2.6 0 0 1 -5.2 0 q0 -1.4 2.6 -4.6z" transform="rotate(15 54.3 507.5)"/><path d="M67.2 503.5 q2.6 3.2 2.6 4.6 a2.6 2.6 0 0 1 -5.2 0 q0 -1.4 2.6 -4.6z" transform="rotate(15 67.2 507.5)"/><path d="M74 506.7 q2.6 3.2 2.6 4.6 a2.6 2.6 0 0 1 -5.2 0 q0 -1.4 2.6 -4.6z" transform="rotate(15 74 510.7)"/><path d="M52.6 512 q2.6 3.2 2.6 4.6 a2.6 2.6 0 0 1 -5.2 0 q0 -1.4 2.6 -4.6z" transform="rotate(15 52.6 516)"/><path d="M60.4 508.20000000000005 q2.6 3.2 2.6 4.6 a2.6 2.6 0 0 1 -5.2 0 q0 -1.4 2.6 -4.6z" transform="rotate(15 60.4 512.2)"/><path d="M65.8 513 q2.6 3.2 2.6 4.6 a2.6 2.6 0 0 1 -5.2 0 q0 -1.4 2.6 -4.6z" transform="rotate(15 65.8 517)"/></g><g fill="#fff"><circle cx="625.5" cy="593.5" r="8.2"/><circle cx="641.3" cy="587" r="11.3"/><circle cx="657.2" cy="592.5" r="9.2"/><rect x="617.2" y="591" width="49.3" height="11.2" rx="5.6"/><path d="M614.1 602.3 q2.2 3 2.2 4.4 a2.2 2.2 0 0 1 -4.4 0 q0 -1.4 2.2 -4.4z" transform="rotate(18 614.1 605.5)"/><path d="M631.8 605.3 q2.2 3 2.2 4.4 a2.2 2.2 0 0 1 -4.4 0 q0 -1.4 2.2 -4.4z" transform="rotate(18 631.8 608.5)"/><path d="M650.8 605.3 q2.2 3 2.2 4.4 a2.2 2.2 0 0 1 -4.4 0 q0 -1.4 2.2 -4.4z" transform="rotate(18 650.8 608.5)"/><path d="M665.8 601.8 q2.2 3 2.2 4.4 a2.2 2.2 0 0 1 -4.4 0 q0 -1.4 2.2 -4.4z" transform="rotate(18 665.8 605)"/><path d="M619.5 610.3 q2.2 3 2.2 4.4 a2.2 2.2 0 0 1 -4.4 0 q0 -1.4 2.2 -4.4z" transform="rotate(18 619.5 613.5)"/><path d="M639.9 612.3 q2.2 3 2.2 4.4 a2.2 2.2 0 0 1 -4.4 0 q0 -1.4 2.2 -4.4z" transform="rotate(18 639.9 615.5)"/><path d="M660.3 611.5999999999999 q2.2 3 2.2 4.4 a2.2 2.2 0 0 1 -4.4 0 q0 -1.4 2.2 -4.4z" transform="rotate(18 660.3 614.8)"/></g><path d="M643 681.7 C652 696 663.3 707 663.3 719 A20.3 19 0 0 1 622.8 719 C622.8 707 634 696 643 681.7 Z" fill="#fff"/><ellipse cx="635" cy="720" rx="5.2" ry="6.3" fill="#f73781"/><g fill="none" stroke="#fff" stroke-width="3.2"><rect x="621" y="785" width="44" height="39" rx="3"/><line x1="621" y1="795" x2="665" y2="795"/></g><g fill="#fff"><rect x="630" y="781.5" width="3" height="7" rx="1.4"/><rect x="642" y="781.5" width="3" height="7" rx="1.4"/><rect x="653" y="781.5" width="3" height="7" rx="1.4"/><rect x="628" y="803" width="5" height="4"/><rect x="640.5" y="803" width="5" height="4"/><rect x="653" y="803" width="5" height="4"/><rect x="628" y="812" width="5" height="4"/><rect x="640.5" y="812" width="5" height="4"/><rect x="653" y="812" width="5" height="4"/></g><path d="M50.6 724.3 C47 718 43 713.5 43 708.8 A7.6 7.6 0 0 1 58.2 708.8 C58.2 713.5 54.2 718 50.6 724.3 Z" fill="#e15a9e"/><circle cx="50.6" cy="708.6" r="3" fill="#fff"/><g stroke-linejoin="round"><polygon points="284.3,280.6 287.9,279.4 293.9,275.8 299.8,274.6 304.6,272.2 307.0,267.4 305.8,262.1 310.6,265.7 314.2,266.8 320.1,268.0 324.9,272.2 329.7,278.2 334.4,284.2 336.8,291.3 335.0,296.1 334.4,303.2 338.0,309.2 336.8,314.0 333.2,318.8 332.1,325.9 336.8,330.7 342.8,334.3 341.6,337.9 335.0,338.6 329.7,339.7 330.7,347.2 335.0,351.5 339.3,357.9 335.0,362.2 332.9,365.4 326.1,361.7 317.7,358.1 309.4,352.2 301.0,345.0 295.1,337.9 291.5,330.7 290.3,323.5 293.9,318.8 298.6,314.0 298.6,309.2 295.1,302.1 291.5,292.5 287.9,285.3" fill="#71c6c5"/><polygon points="347.6,293.1 348.3,292.5 358.8,288.6 369.3,283.3 379.8,282.0 387.6,279.4 394.3,276.5 397.9,268.0 398.6,260.8 397.9,256.5 399.3,252.9 402.2,251.5 401.5,255.0 400.0,259.3 400.8,263.6 403.6,265.1 407.9,263.6 413.6,262.2 419.4,259.3 423.7,256.5 425.8,257.9 422.2,262.2 417.9,266.5 413.6,270.8 409.3,273.7 410.8,276.5 407.2,280.8 406.5,283.0 411.5,282.3 415.1,280.8 419.4,280.1 423.0,282.3 423.7,289.4 423.0,296.6 425.1,298.7 428.0,295.1 432.3,291.6 435.8,288.0 436.6,282.3 437.3,276.5 438.0,270.8 439.7,271.5 440.1,278.0 439.4,283.7 442.3,282.3 446.6,280.8 450.9,278.7 455.2,275.1 458.0,270.8 459.5,271.5 460.2,275.1 463.8,278.0 469.5,279.4 473.8,283.0 470.9,284.4 460.9,285.1 455.2,289.4 452.3,293.7 453.7,298.0 458.0,302.3 462.3,305.9 468.1,306.6 472.4,308.0 476.7,311.6 479.5,315.2 483.8,316.6 488.1,319.5 488.8,325.2 488.1,329.5 492.4,332.4 496.7,335.2 493.8,338.1 488.1,343.8 483.8,348.1 479.5,352.4 477.9,355.8 470.3,354.7 459.6,355.8 455.3,363.3 451.0,362.2 444.6,356.8 436.0,355.8 423.1,357.9 410.2,356.8 397.3,354.7 388.7,351.5 384.4,346.1 371.5,347.2 367.3,345.0 354.4,344.0 343.6,339.7 341.6,337.9 342.8,334.3 336.8,330.7 332.1,325.9 333.2,318.8 336.8,314.0 338.0,309.2 334.4,303.2 335.0,296.1 336.8,291.3 341.6,292.5" fill="#3dbab7"/><polygon points="329.7,339.7 335.0,338.6 343.6,339.7 354.4,344.0 367.3,345.0 371.5,347.2 384.4,346.1 388.7,351.5 397.3,354.7 410.2,356.8 423.1,357.9 436.0,355.8 444.6,356.8 451.0,362.2 455.3,363.3 459.6,355.8 470.3,354.7 477.9,355.8 483.2,364.4 484.3,373.0 486.5,383.7 485.4,391.2 478.9,390.1 470.3,390.1 461.8,392.3 457.5,394.4 453.2,396.6 451.0,400.9 446.7,407.3 442.4,415.9 436.0,424.5 429.5,430.9 424.2,434.2 418.8,430.9 410.2,424.5 397.3,420.2 384.4,413.8 371.5,405.2 358.7,394.4 345.8,381.5 337.2,370.8 332.9,365.4 335.0,362.2 339.3,357.9 335.0,351.5 330.7,347.2" fill="#e14783"/><polygon points="327.2,156.2 323.6,159.3 320.1,162.9 318.6,167.2 317.9,171.5 317.2,177.2 315.1,182.2 311.5,185.1 307.9,187.2 307.2,190.1 306.5,194.4 305.7,200.1 306.5,203.0 311.5,202.3 310.0,205.1 315.1,204.4 318.6,205.1 313.6,207.3 311.5,210.1 308.6,211.6 307.9,214.4 311.5,218.0 315.1,218.7 318.6,215.9 321.5,213.0 325.1,208.7 328.7,207.3 331.5,209.4 334.4,213.0 336.5,210.8 335.8,204.4 340.1,203.7 343.2,203.7 344.3,208.0 348.6,212.3 352.9,211.2 357.2,208.0 361.5,204.8 365.8,202.6 372.2,198.9 377.1,196.2 378.1,192.4 379.7,193.5 383.0,193.0 389.4,189.7 394.8,184.4 398.0,181.1 400.1,176.9 403.4,173.1 406.6,169.3 409.8,166.1 414.1,162.9 417.3,161.8 420.0,163.4 419.5,166.1 415.2,168.8 410.9,171.5 407.7,174.7 404.4,176.9 401.2,181.1 399.1,185.4 395.8,188.7 391.6,193.0 390.5,197.3 386.2,199.4 380.8,201.6 375.4,203.7 371.1,206.9 366.8,211.2 364.7,216.6 363.6,220.0 359.6,225.6 354.3,229.5 350.7,231.6 348.0,233.1 345.0,238.0 342.8,246.0 339.2,244.2 334.4,246.0 332.1,251.9 329.7,257.9 326.1,259.7 322.5,259.1 317.7,258.5 313.0,255.5 309.4,254.3 305.8,251.9 303.4,253.1 300.6,247.4 297.0,240.2 293.4,231.3 291.4,221.6 292.9,214.4 295.7,207.3 297.2,200.1 297.9,193.0 297.9,185.8 298.6,180.8 300.7,177.2 304.3,175.1 308.6,172.9 311.5,170.8 312.9,165.7 315.1,160.7 318.6,157.9 323.6,156.4" fill="#6cc0e6"/><polygon points="303.4,253.1 305.8,251.9 309.4,254.3 313.0,255.5 317.7,258.5 322.5,259.1 326.1,259.7 329.7,257.9 332.1,251.9 334.4,246.0 339.2,244.2 342.8,246.0 344.0,257.9 346.4,269.8 348.2,278.2 347.6,287.7 347.6,293.1 341.6,292.5 336.8,291.3 334.4,284.2 329.7,278.2 324.9,272.2 320.1,268.0 314.2,266.8 310.6,265.7 305.8,262.1" fill="#f3b382"/><polygon points="348.0,233.1 351.6,231.3 357.0,232.2 360.5,236.7 364.1,240.2 367.7,239.3 371.0,235.5 373.5,231.0 377.0,230.2 381.5,232.0 384.0,236.0 380.0,236.5 376.5,236.0 374.5,239.0 376.5,243.0 381.0,244.5 385.0,241.0 390.7,246.5 391.5,252.0 389.5,256.0 392.0,259.0 394.5,263.0 395.0,270.0 394.3,276.5 387.6,279.4 379.8,282.0 369.3,283.3 358.8,288.6 348.3,292.5 347.6,293.1 347.6,287.7 348.2,278.2 346.4,269.8 344.0,257.9 342.8,246.0 345.0,238.0" fill="#8f5aab"/><polygon points="288.4,179.4 291.6,178.2 297.9,180.8 298.6,180.8 297.9,185.8 297.9,193.0 297.2,200.1 295.7,207.3 292.9,214.4 291.4,221.6 293.4,231.3 297.0,240.2 300.6,247.4 303.4,253.1 305.8,262.1 307.0,267.4 304.6,272.2 299.8,274.6 293.9,275.8 287.9,279.4 284.3,280.6 276.5,268.9 269.3,259.3 262.2,256.9 261.0,249.8 264.5,235.5 269.3,223.5 272.9,211.6 276.5,199.7 278.9,196.1 282.0,194.0 283.5,190.0 286.0,187.7" fill="#e5398b"/><polygon points="166.0,313.2 168.0,318.3 172.1,322.3 176.2,326.4 180.2,332.5 184.3,338.5 187.3,344.6 188.3,352.7 189.3,358.8 188.3,364.9 185.3,371.0 184.3,373.0 180.2,372.0 176.2,371.0 170.1,373.0 166.0,377.1 163.0,381.2 159.9,387.2 160.9,395.4 162.0,403.5 155.9,405.5 147.7,406.5 139.6,405.5 133.5,406.5 130.5,401.4 127.5,395.4 124.4,389.3 121.4,385.2 125.4,380.1 131.5,378.1 137.6,376.1 143.7,370.0 146.7,364.9 149.8,358.8 153.8,354.8 157.9,350.7 156.9,345.6 157.9,341.6 162.0,337.5 165.0,332.5 165.0,324.3 165.6,316.2" fill="#3dbab7"/><polygon points="133.5,406.5 139.6,405.5 147.7,406.5 155.9,405.5 156.9,413.6 155.9,421.7 153.8,425.8 149.8,429.8 146.7,432.9 143.7,429.8 138.6,425.8 133.5,422.7 130.5,421.7 132.5,415.6 133.5,409.6" fill="#a98bc9"/></g><polyline points="330.2,148.3 306.5,148.3 306.5,176.6" fill="none" stroke="#f29a2c" stroke-width="3" stroke-linejoin="miter"/><circle cx="330.2" cy="148.3" r="3.6" fill="#f29a2c"/><circle cx="306.5" cy="176.6" r="3.6" fill="#f29a2c"/><polyline points="225.9,203.6 225.9,227.0 272.3,227.0" fill="none" stroke="#f29a2c" stroke-width="3" stroke-linejoin="miter"/><circle cx="225.9" cy="203.6" r="3.6" fill="#f29a2c"/><circle cx="272.3" cy="227" r="3.6" fill="#f29a2c"/><polyline points="429.5,214.0 429.5,238.8 381.7,238.8" fill="none" stroke="#f29a2c" stroke-width="3" stroke-linejoin="miter"/><circle cx="429.5" cy="214" r="3.6" fill="#f29a2c"/><circle cx="381.7" cy="238.8" r="3.6" fill="#f29a2c"/><polyline points="502.0,280.8 446.6,280.8 446.6,294.2" fill="none" stroke="#f29a2c" stroke-width="3" stroke-linejoin="miter"/><circle cx="502" cy="280.8" r="3.6" fill="#f29a2c"/><circle cx="446.6" cy="294.2" r="3.6" fill="#f29a2c"/><polyline points="259.5,302.6 259.5,325.5 306.5,325.5" fill="none" stroke="#f29a2c" stroke-width="3" stroke-linejoin="miter"/><circle cx="259.5" cy="302.6" r="3.6" fill="#f29a2c"/><circle cx="306.5" cy="325.5" r="3.6" fill="#f29a2c"/><polyline points="320.6,261.7 320.6,368.6" fill="none" stroke="#f29a2c" stroke-width="3" stroke-linejoin="miter"/><circle cx="320.6" cy="261.7" r="3.6" fill="#f29a2c"/><circle cx="320.6" cy="368.6" r="3.6" fill="#f29a2c"/><polyline points="451.0,392.3 451.0,415.9 498.3,415.9" fill="none" stroke="#f29a2c" stroke-width="3" stroke-linejoin="miter"/><circle cx="451" cy="392.3" r="3.6" fill="#f29a2c"/><circle cx="498.3" cy="415.9" r="3.6" fill="#f29a2c"/><polyline points="108.2,340.6 108.2,382.2 142.7,382.2" fill="none" stroke="#f29a2c" stroke-width="3" stroke-linejoin="miter"/><circle cx="108.2" cy="340.6" r="3.6" fill="#f29a2c"/><circle cx="142.7" cy="382.2" r="3.6" fill="#f29a2c"/><polyline points="204.6,412.6 204.6,426.8 147.7,426.8" fill="none" stroke="#f29a2c" stroke-width="3" stroke-linejoin="miter"/><circle cx="204.6" cy="412.6" r="3.6" fill="#f29a2c"/><circle cx="147.7" cy="426.8" r="3.6" fill="#f29a2c"/><polygon points="267.5,660.0 269.2,642.7 272.7,630.6 279.6,623.7 290.0,621.2 300.3,623.7 310.7,630.6 319.4,637.5 328.0,641.0 336.7,647.9 345.3,654.8 352.2,660.0 359.2,665.2 366.1,663.4 376.5,661.7 386.9,663.4 397.2,666.9 404.2,670.4 414.5,673.8 424.9,675.6 435.3,679.0 442.2,684.2 452.6,687.7 463.0,685.9 473.4,687.7 476.8,698.0 475.1,711.9 476.8,722.3 473.4,736.1 466.4,750.0 468.2,760.3 473.4,770.7 476.8,784.5 475.1,797.7 466.4,808.1 456.1,815.0 449.1,821.9 445.7,832.3 438.8,830.6 431.8,829.0 424.9,835.7 418.0,844.4 409.3,856.5 407.6,866.9 404.2,877.3 399.0,887.6 392.0,898.0 388.6,905.0 388.6,915.3 385.1,922.2 379.9,930.9 369.6,930.9 355.7,929.9 341.9,930.9 328.0,929.2 314.2,927.4 296.9,929.2 288.0,925.0 282.2,918.5 270.2,913.8 255.9,911.4 241.6,909.0 232.0,904.2 223.7,897.0 221.3,882.7 217.7,870.8 205.8,856.5 198.6,844.5 196.5,835.0 200.0,818.4 205.2,804.6 210.4,790.8 212.0,778.0 212.1,760.3 212.1,746.5 213.8,732.6 219.0,722.3 224.2,711.9 227.7,698.0 231.1,685.9 238.1,679.0 248.4,673.8 258.8,668.6" fill="#71b652"/><polygon points="404.2,670.4 414.5,673.8 424.9,675.6 435.3,679.0 442.2,684.2 452.6,687.7 463.0,685.9 473.4,687.7 476.8,698.0 475.1,711.9 476.8,722.3 473.4,736.1 466.4,750.0 468.2,760.3 473.4,770.7 476.8,784.5 475.1,797.7 466.4,808.1 456.1,815.0 449.1,821.9 445.7,832.3 442.2,828.8 431.8,821.9 421.5,816.7 407.6,813.3 397.2,809.8 383.4,809.8 369.6,813.3 360.0,820.3 347.0,833.6 333.6,847.0 320.2,860.4 306.9,867.1 301.9,870.4 300.2,883.8 300.5,895.0 298.0,903.0 294.5,909.5 290.5,909.5 290.2,892.1 286.8,875.4 281.8,860.4 277.6,847.0 278.5,832.0 283.5,820.3 293.5,811.9 308.5,801.9 315.2,788.5 333.6,775.2 350.3,761.8 360.0,753.5 364.0,748.0 369.6,739.6 371.3,722.3 374.7,708.4 383.4,698.0 393.8,684.2" fill="#4ea8e0" stroke="#2f7a52" stroke-width="1"/><polyline points="322.8,639.2 329.8,649.6 334.9,660.0 336.7,673.8 333.2,684.2 331.5,698.0 333.6,700.0 331.9,706.7 340.3,716.7 326.9,727.6 313.5,725.1 305.2,728.4 303.5,741.8 296.8,751.8 286.8,763.5 276.8,773.5 258.4,778.5 245.1,785.2 238.4,793.6 240.0,803.6 235.9,813.6 236.7,827.0 241.7,837.0 250.1,842.0 255.1,850.4 260.1,867.1 262.6,885.4" fill="none" stroke="#3f7f30" stroke-width="1.3" stroke-linejoin="round"/><polyline points="280.1,825.3 277.6,833.6 275.1,850.4 274.3,865.4 270.1,872.1 262.6,885.4" fill="none" stroke="#3f7f30" stroke-width="1.3" stroke-linejoin="round"/><polyline points="301.0,898.0 310.2,893.0 320.2,888.5 336.9,883.4 360.0,876.5 380.0,873.8 397.2,873.8 405.9,875.5" fill="none" stroke="#3f7f30" stroke-width="1.3" stroke-linejoin="round"/><polyline points="300.3,906.7 317.6,901.5 338.4,896.3 359.2,892.8 379.9,889.4 390.3,887.6" fill="none" stroke="#3f7f30" stroke-width="1.3" stroke-linejoin="round"/><polyline points="291.0,910.0 303.8,915.3 314.2,924.0 320.0,929.0" fill="none" stroke="#3f7f30" stroke-width="1.3" stroke-linejoin="round"/><path d="M236.3 852.4000000000001 C234.3 850.8000000000001 231.3 848.8000000000001 231.3 846.6 A2.6 2.6 0 0 1 236.3 845.8000000000001 A2.6 2.6 0 0 1 241.3 846.6 C241.3 848.8000000000001 238.3 850.8000000000001 236.3 852.4000000000001Z" fill="#e45f8c"/><path d="M236.3 850.0 C235.3 849.2 233.70000000000002 848.2 233.70000000000002 847.2 A1.3 1.3 0 0 1 236.3 847.0 A1.3 1.3 0 0 1 238.9 847.2 C238.9 848.2 237.3 849.2 236.3 850.0Z" fill="#f7c3d3"/><path d="M310 916.2 C308 914.6 305 912.6 305 910.4 A2.6 2.6 0 0 1 310 909.6 A2.6 2.6 0 0 1 315 910.4 C315 912.6 312 914.6 310 916.2Z" fill="#e45f8c"/><path d="M310 913.8 C309 913 307.4 912 307.4 911 A1.3 1.3 0 0 1 310 910.8 A1.3 1.3 0 0 1 312.6 911 C312.6 912 311 913 310 913.8Z" fill="#f7c3d3"/><polyline points="294.1,659.3 294.1,621.9 324.6,621.9" fill="none" stroke="#555555" stroke-width="2.6"/><circle cx="294.1" cy="659.3" r="3.8" fill="#555555"/><circle cx="324.6" cy="621.9" r="3.8" fill="#555555"/><polyline points="378.2,695.3 378.2,659.3 407.6,659.3" fill="none" stroke="#555555" stroke-width="2.6"/><circle cx="378.2" cy="695.3" r="3.8" fill="#555555"/><circle cx="407.6" cy="659.3" r="3.8" fill="#555555"/><polyline points="434.6,771.5 483.2,771.5" fill="none" stroke="#555555" stroke-width="2.6"/><circle cx="434.6" cy="771.5" r="3.8" fill="#555555"/><circle cx="483.2" cy="771.5" r="3.8" fill="#555555"/><polyline points="396.6,850.6 426.8,850.6" fill="none" stroke="#555555" stroke-width="2.6"/><circle cx="396.6" cy="850.6" r="3.8" fill="#555555"/><circle cx="426.8" cy="850.6" r="3.8" fill="#555555"/><polyline points="378.2,888.8 408.4,888.8" fill="none" stroke="#555555" stroke-width="2.6"/><circle cx="378.2" cy="888.8" r="3.8" fill="#555555"/><circle cx="408.4" cy="888.8" r="3.8" fill="#555555"/><polyline points="364.4,917.2 393.9,917.2" fill="none" stroke="#555555" stroke-width="2.6"/><circle cx="364.4" cy="917.2" r="3.8" fill="#555555"/><circle cx="393.9" cy="917.2" r="3.8" fill="#555555"/><path d="M36 1128.2 q5.2 -3 10.5 0 t10.5 0 t10.5 0 t10.5 0" fill="none" stroke="#4b55c2" stroke-width="1.2"/><rect x="36" y="1152.4" width="47" height="3.4" fill="#4354c8"/><g><path d="M184.6 1230 L210 1230 L210 1252 Q210 1261 197.3 1264.6 Q184.6 1261 184.6 1252 Z" fill="#fbf7ee" stroke="#e2cfa8" stroke-width="1.1"/><path d="M183 1232 Q178.5 1248 184 1259 Q186 1263 189 1265.5" fill="none" stroke="#cfb27c" stroke-width="2.4" stroke-linecap="round"/><g fill="#cdae74"><circle cx="212.2" cy="1234" r="1.9"/><circle cx="214.6" cy="1237.4" r="1.9"/><circle cx="215.2" cy="1241.3" r="2"/><circle cx="214.6" cy="1245.3" r="2"/><circle cx="215" cy="1249.2" r="1.9"/><circle cx="213.6" cy="1253" r="1.9"/><circle cx="211.6" cy="1256.4" r="1.8"/><circle cx="209" cy="1259.6" r="1.7"/><circle cx="197.4" cy="1223.2" r="2.6"/><path d="M193.5 1226.5 h7.8 l-0.8 5.2 h-6.2 z"/><path d="M186 1264 Q197 1269.5 209 1264 L209.5 1267.5 Q197 1272 185.5 1267.5 Z"/></g><circle cx="197.4" cy="1237.2" r="2.1" fill="none" stroke="#c8aa74" stroke-width="0.9"/><rect x="188.8" y="1244.3" width="17.6" height="2" rx="1" fill="#d2b783"/><path d="M192.5 1249 q3 -2 6 0 q3 2 4 5 q-3 3 -6 2 q-2 2 -4 1 q1 -2 3 -3 q-2 -1 -3 -5z" fill="#dcc59a"/></g><path d="M225 1261 Q265 1259.5 272 1261 L278 1263 L283 1260.8 Q300 1259.8 309 1261.8 L309 1263.2 Q290 1262 283 1263 L277 1265 L271 1263 Q250 1262 225 1263 Z" fill="#9a2a2a"/><defs><linearGradient id="lpg" x1="0" y1="0" x2="1" y2="0"><stop offset="0" stop-color="#5cc6cf"/><stop offset="0.45" stop-color="#5bb6dc"/><stop offset="0.52" stop-color="#c9498e"/><stop offset="0.75" stop-color="#e8336f"/><stop offset="1" stop-color="#f27a8c"/></linearGradient></defs><polygon points="358.3,1241.9 366,1233 375.3,1225.7 380.6,1228.4 386.9,1226.6 391.4,1229.3 397.7,1225.7 408,1232 419.1,1241 410.2,1252.6 402.1,1262.4 389.6,1263.3 380.6,1263.3 369.9,1255.3 362.7,1249" fill="url(#lpg)"/><rect x="364" y="1248" width="45" height="1.6" fill="#fff" opacity="0.8"/><rect x="390" y="1257" width="2.2" height="5.5" fill="#fff"/><rect x="394.5" y="1254.5" width="2.2" height="8" fill="#fff"/><rect x="399.5" y="1256.5" width="2.2" height="6" fill="#fff"/><rect x="427.3" y="1219.7" width="1" height="53" fill="#d8d8d8"/><circle cx="589.7" cy="1244.2" r="10.2" fill="none" stroke="#fff" stroke-width="1.5"/><path d="M584.5 1239.5 q-1 4 3 8.5 q4 4 8 3 l0.5 -2.2 l-2.6 -1.4 l-1.4 1.3 q-2.2 -0.8 -3.8 -3.6 l1.2 -1.4 l-1.4 -2.6 z" fill="#fff"/><path d="M590 1238.5 a5.5 5.5 0 0 1 5 5 M590 1235.8 a8.2 8.2 0 0 1 7.7 7.7" fill="none" stroke="#fff" stroke-width="1.2"/>
</svg>
<div style="position:absolute;left:106.5px;top:30.5px;line-height:1;white-space:nowrap;color:#fffaf0;font-family:'Liberation Sans', Arial, sans-serif;font-size:33.4px;font-weight:400;transform:scaleX(0.9775);transform-origin:0 0;-webkit-text-stroke:0.45px #fd9515;">REPORTE DE ATENCIÓN DE</div><div style="position:absolute;left:558.3px;top:30.7px;line-height:1;white-space:nowrap;color:#fffaf0;font-family:'Liberation Sans', Arial, sans-serif;font-size:32.5px;font-weight:700;transform:scaleX(1.0059);transform-origin:0 0;">EMERGENCIAS</div><div style="position:absolute;left:11.0px;top:107.7px;line-height:1;white-space:nowrap;color:#2b2b2b;font-family:'Liberation Sans', Arial, sans-serif;font-size:12.6px;font-weight:700;transform:scaleX(0.9250);transform-origin:0 0;">Reporte de las&nbsp; 06:00 h del 26 de diciembre a</div><div style="position:absolute;left:11.0px;top:126.6px;line-height:1;white-space:nowrap;color:#2b2b2b;font-family:'Liberation Sans', Arial, sans-serif;font-size:12.6px;font-weight:700;transform:scaleX(0.9210);transform-origin:0 0;">las 06:00 h del 27 de diciembre de 2023</div><div style="position:absolute;left:644.1px;top:136.1px;line-height:1;white-space:nowrap;color:#1d1d1d;font-family:'Liberation Sans', Arial, sans-serif;font-size:13.6px;font-weight:700;transform:scaleX(0.8537);transform-origin:0 0;">EVENTOS REGISTRADOS</div><div style="position:absolute;left:586.6px;top:157.4px;line-height:1;white-space:nowrap;color:#1d1d1d;font-family:'Liberation Sans', Arial, sans-serif;font-size:11.6px;font-weight:700;transform:scaleX(1.0158);transform-origin:0 0;">Caída de muro</div><div style="position:absolute;left:586.6px;top:176.2px;line-height:1;white-space:nowrap;color:#1d1d1d;font-family:'Liberation Sans', Arial, sans-serif;font-size:11.6px;font-weight:700;transform:scaleX(1.0254);transform-origin:0 0;">Filtración de agua en vivienda</div><div style="position:absolute;left:586.6px;top:195.5px;line-height:1;white-space:nowrap;color:#1d1d1d;font-family:'Liberation Sans', Arial, sans-serif;font-size:11.6px;font-weight:700;transform:scaleX(1.0275);transform-origin:0 0;">Otras emergencias atendidas</div><div style="position:absolute;left:809.7px;top:157.4px;line-height:1;white-space:nowrap;color:#1d1d1d;font-family:'Liberation Sans', Arial, sans-serif;font-size:11.6px;font-weight:700;">1</div><div style="position:absolute;left:809.7px;top:176.2px;line-height:1;white-space:nowrap;color:#1d1d1d;font-family:'Liberation Sans', Arial, sans-serif;font-size:11.6px;font-weight:700;">1</div><div style="position:absolute;left:809.2px;top:195.5px;line-height:1;white-space:nowrap;color:#1d1d1d;font-family:'Liberation Sans', Arial, sans-serif;font-size:11.6px;font-weight:700;">0</div><div style="position:absolute;left:658.6px;top:243.1px;line-height:1;white-space:nowrap;color:#1d1d1d;font-family:'Liberation Sans', Arial, sans-serif;font-size:14px;font-weight:700;transform:scaleX(0.8501);transform-origin:0 0;">CASOS ATENDIDOS</div><div style="position:absolute;left:704.6px;top:273.9px;line-height:1;white-space:nowrap;color:#fff;font-family:'Liberation Sans', Arial, sans-serif;font-size:36px;font-weight:700;">2</div><div style="position:absolute;left:618.6px;top:350.8px;line-height:1;white-space:nowrap;color:#1d1d1d;font-family:'Liberation Sans', Arial, sans-serif;font-size:12.8px;font-weight:700;transform:scaleX(0.8453);transform-origin:0 0;">CASOS ACUMULADOS DESDE LA</div><div style="position:absolute;left:602.0px;top:364.8px;line-height:1;white-space:nowrap;color:#1d1d1d;font-family:'Liberation Sans', Arial, sans-serif;font-size:12.8px;font-weight:700;transform:scaleX(0.8554);transform-origin:0 0;">DECLARATORIA DE ALERTA AMARILLA</div><div style="position:absolute;left:658.6px;top:378.6px;line-height:1;white-space:nowrap;color:#1d1d1d;font-family:'Liberation Sans', Arial, sans-serif;font-size:12.8px;font-weight:400;transform:scaleX(0.8359);transform-origin:0 0;">15 DE NOVIEMBRE</div><div style="position:absolute;left:690.0px;top:401.0px;line-height:1;white-space:nowrap;color:#fff;font-family:'Liberation Sans', Arial, sans-serif;font-size:35px;font-weight:700;transform:scaleX(0.9023);transform-origin:0 0;">333</div><div style="position:absolute;left:15.0px;top:450.3px;line-height:1;white-space:nowrap;color:#333;font-family:'Liberation Sans', Arial, sans-serif;font-size:11.2px;font-weight:400;transform:scaleX(1.0168);transform-origin:0 0;">Datos generados por la Dirección de Atención de Emergencias</div><div style="position:absolute;left:106.5px;top:478.5px;line-height:1;white-space:nowrap;color:#f4fffe;font-family:'Liberation Sans', Arial, sans-serif;font-size:34.8px;font-weight:400;transform:scaleX(0.9230);transform-origin:0 0;-webkit-text-stroke:0.4px #0dc3bb;">MONITOREO DE</div><div style="position:absolute;left:372.0px;top:479.2px;line-height:1;white-space:nowrap;color:#fff;font-family:'Liberation Sans', Arial, sans-serif;font-size:34px;font-weight:700;transform:scaleX(0.9556);transform-origin:0 0;">LLUVIAS</div><div style="position:absolute;left:43.5px;top:544.2px;line-height:1;white-space:nowrap;color:#f2fffe;font-family:'Liberation Sans', Arial, sans-serif;font-size:25.5px;font-weight:400;transform:scaleX(1.0125);transform-origin:0 0;">Intensidad máxima de lluvias</div><div style="position:absolute;left:687.2px;top:558.0px;line-height:1;white-space:nowrap;color:#fff;font-family:'Liberation Sans', Arial, sans-serif;font-size:12.3px;font-weight:700;transform:scaleX(1.0533);transform-origin:0 0;">Precipitación diaria</div><div style="position:absolute;left:686.5px;top:577.5px;line-height:1;white-space:nowrap;color:#fff;font-family:'Liberation Sans', Arial, sans-serif;font-size:18.8px;font-weight:700;transform:scaleX(1.1122);transform-origin:0 0;">0,0 mm</div><div style="position:absolute;left:687.2px;top:605.9px;line-height:1;white-space:nowrap;color:#fde3ee;font-family:'Liberation Sans', Arial, sans-serif;font-size:9.6px;font-weight:400;transform:scaleX(0.9722);transform-origin:0 0;">Punto de referencia:</div><div style="position:absolute;left:687.2px;top:620.9px;line-height:1;white-space:nowrap;color:#fde3ee;font-family:'Liberation Sans', Arial, sans-serif;font-size:9.6px;font-weight:400;transform:scaleX(0.9793);transform-origin:0 0;">Estación pluviométrica</div><div style="position:absolute;left:687.2px;top:635.9px;line-height:1;white-space:nowrap;color:#fde3ee;font-family:'Liberation Sans', Arial, sans-serif;font-size:9.6px;font-weight:400;transform:scaleX(0.9318);transform-origin:0 0;">Ex Banco del Estado</div><div style="position:absolute;left:686.0px;top:670.4px;line-height:1;white-space:nowrap;color:#fff;font-family:'Liberation Sans', Arial, sans-serif;font-size:12.3px;font-weight:700;transform:scaleX(1.0021);transform-origin:0 0;">Precipitación</div><div style="position:absolute;left:686.0px;top:690.6px;line-height:1;white-space:nowrap;color:#fff;font-family:'Liberation Sans', Arial, sans-serif;font-size:12.3px;font-weight:700;transform:scaleX(1.0104);transform-origin:0 0;">acumulada en el mes</div><div style="position:absolute;left:686.5px;top:707.3px;line-height:1;white-space:nowrap;color:#fff;font-family:'Liberation Sans', Arial, sans-serif;font-size:17.2px;font-weight:700;transform:scaleX(1.0311);transform-origin:0 0;">120,9 mm</div><div style="position:absolute;left:686.0px;top:733.4px;line-height:1;white-space:nowrap;color:#fde3ee;font-family:'Liberation Sans', Arial, sans-serif;font-size:9.6px;font-weight:400;transform:scaleX(1.0203);transform-origin:0 0;">Precipitación mensual normal</div><div style="position:absolute;left:686.0px;top:747.9px;line-height:1;white-space:nowrap;color:#fde3ee;font-family:'Liberation Sans', Arial, sans-serif;font-size:9.6px;font-weight:400;transform:scaleX(1.0192);transform-origin:0 0;">de diciembre: <b style="color:#fff">87,50 mm</b></div><div style="position:absolute;left:683.7px;top:794.2px;line-height:1;white-space:nowrap;color:#fff;font-family:'Liberation Sans', Arial, sans-serif;font-size:12.3px;font-weight:700;transform:scaleX(1.0275);transform-origin:0 0;">Alerta amarilla:</div><div style="position:absolute;left:683.7px;top:813.2px;line-height:1;white-space:nowrap;color:#fff;font-family:'Liberation Sans', Arial, sans-serif;font-size:12.3px;font-weight:700;transform:scaleX(1.0127);transform-origin:0 0;">15 de noviembre</div><div style="position:absolute;left:624.0px;top:867.4px;line-height:1;white-space:nowrap;color:#fff;font-family:'Liberation Sans', Arial, sans-serif;font-size:9.6px;font-weight:700;transform:scaleX(0.9959);transform-origin:0 0;">Días de</div><div style="position:absolute;left:624.0px;top:878.4px;line-height:1;white-space:nowrap;color:#fff;font-family:'Liberation Sans', Arial, sans-serif;font-size:9.6px;font-weight:700;transform:scaleX(1.0215);transform-origin:0 0;">precipitación</div><div style="position:absolute;left:624.0px;top:889.4px;line-height:1;white-space:nowrap;color:#fff;font-family:'Liberation Sans', Arial, sans-serif;font-size:9.6px;font-weight:700;transform:scaleX(1.0061);transform-origin:0 0;">en el mes</div><div style="position:absolute;left:722.3px;top:867.4px;line-height:1;white-space:nowrap;color:#fff;font-family:'Liberation Sans', Arial, sans-serif;font-size:9.6px;font-weight:700;transform:scaleX(0.9916);transform-origin:0 0;">Días acumulados de</div><div style="position:absolute;left:722.3px;top:878.4px;line-height:1;white-space:nowrap;color:#fff;font-family:'Liberation Sans', Arial, sans-serif;font-size:9.6px;font-weight:700;transform:scaleX(1.0215);transform-origin:0 0;">precipitación</div><div style="position:absolute;left:722.3px;top:889.4px;line-height:1;white-space:nowrap;color:#fde0ec;font-family:'Liberation Sans', Arial, sans-serif;font-size:9.6px;font-weight:400;transform:scaleX(0.9923);transform-origin:0 0;">Periodo 2023-2024</div><div style="position:absolute;left:633.4px;top:912.9px;line-height:1;white-space:nowrap;color:#fff;font-family:'Liberation Sans', Arial, sans-serif;font-size:32px;font-weight:700;transform:scaleX(0.9833);transform-origin:0 0;">14</div><div style="position:absolute;left:730.8px;top:912.9px;line-height:1;white-space:nowrap;color:#fff;font-family:'Liberation Sans', Arial, sans-serif;font-size:32px;font-weight:700;transform:scaleX(0.9889);transform-origin:0 0;">23</div><div style="position:absolute;left:64.2px;top:603.3px;line-height:1;white-space:nowrap;color:#1d1d1d;font-family:'Liberation Sans', Arial, sans-serif;font-size:9.9px;font-weight:700;transform:scaleX(1.0694);transform-origin:0 0;">INTENSIDAD MÁXIMA</div><div style="position:absolute;left:60.0px;top:618.9px;line-height:1;white-space:nowrap;color:#1d1d1d;font-family:'Liberation Sans', Arial, sans-serif;font-size:10.2px;font-weight:700;transform:scaleX(0.9524);transform-origin:0 0;">REGISTRADA EN EL MES</div><div style="position:absolute;left:96.0px;top:638.6px;line-height:1;white-space:nowrap;color:#111;font-family:'Liberation Sans', Arial, sans-serif;font-size:19.8px;font-weight:700;transform:scaleX(1.0775);transform-origin:0 0;">12,5</div><div style="position:absolute;left:79.2px;top:669.5px;line-height:1;white-space:nowrap;color:#111;font-family:'Liberation Sans', Arial, sans-serif;font-size:21px;font-weight:700;transform:scaleX(1.1840);transform-origin:0 0;">mm/hr</div><div style="position:absolute;left:99.3px;top:690.8px;line-height:1;white-space:nowrap;color:#1d1d1d;font-family:'Liberation Sans', Arial, sans-serif;font-size:10.5px;font-weight:700;transform:scaleX(0.9171);transform-origin:0 0;">CUENCA</div><div style="position:absolute;left:75.6px;top:706.2px;line-height:1;white-space:nowrap;color:#111;font-family:'Liberation Sans', Arial, sans-serif;font-size:15.3px;font-weight:700;transform:scaleX(0.9654);transform-origin:0 0;">ACHUMANI</div><div style="position:absolute;left:73.4px;top:726.9px;line-height:1;white-space:nowrap;color:#1d1d1d;font-family:'Liberation Sans', Arial, sans-serif;font-size:11.2px;font-weight:700;transform:scaleX(0.9625);transform-origin:0 0;">Fecha: 11/12/2023</div><div style="position:absolute;left:52.8px;top:764.0px;line-height:1;white-space:nowrap;color:#e8fbf8;font-family:'Liberation Sans', Arial, sans-serif;font-size:9.6px;font-weight:700;transform:scaleX(0.9275);transform-origin:0 0;">Categorías</div><div style="position:absolute;left:52.8px;top:778.3px;line-height:1;white-space:nowrap;color:#e8fbf8;font-family:'Liberation Sans', Arial, sans-serif;font-size:9.6px;font-weight:700;transform:scaleX(0.9875);transform-origin:0 0;">estándar</div><div style="position:absolute;left:113.3px;top:764.0px;line-height:1;white-space:nowrap;color:#e8fbf8;font-family:'Liberation Sans', Arial, sans-serif;font-size:9.6px;font-weight:700;transform:scaleX(0.9962);transform-origin:0 0;">Intensidad</div><div style="position:absolute;left:113.3px;top:778.3px;line-height:1;white-space:nowrap;color:#e8fbf8;font-family:'Liberation Sans', Arial, sans-serif;font-size:9.6px;font-weight:700;transform:scaleX(1.0499);transform-origin:0 0;">(mm/hr)</div><div style="position:absolute;left:52.6px;top:803.2px;line-height:1;white-space:nowrap;color:#10300c;font-family:'Liberation Sans', Arial, sans-serif;font-size:9.4px;font-weight:700;transform:scaleX(0.9691);transform-origin:0 0;">Sin eventos</div><div style="position:absolute;left:136.2px;top:803.6px;line-height:1;white-space:nowrap;color:#333;font-family:'Liberation Sans', Arial, sans-serif;font-size:10.4px;font-weight:400;transform:translateX(-50%) ;transform-origin:0 0;">&lt; 1</div><div style="position:absolute;left:52.6px;top:829.5px;line-height:1;white-space:nowrap;color:#0b2a6a;font-family:'Liberation Sans', Arial, sans-serif;font-size:9.4px;font-weight:700;transform:scaleX(0.9729);transform-origin:0 0;">Débil</div><div style="position:absolute;left:136.2px;top:829.9px;line-height:1;white-space:nowrap;color:#333;font-family:'Liberation Sans', Arial, sans-serif;font-size:10.4px;font-weight:400;transform:translateX(-50%) ;transform-origin:0 0;">1 -2</div><div style="position:absolute;left:52.6px;top:855.8px;line-height:1;white-space:nowrap;color:#2a2208;font-family:'Liberation Sans', Arial, sans-serif;font-size:9.4px;font-weight:700;transform:scaleX(1.0072);transform-origin:0 0;">Moderada</div><div style="position:absolute;left:136.2px;top:856.2px;line-height:1;white-space:nowrap;color:#333;font-family:'Liberation Sans', Arial, sans-serif;font-size:10.4px;font-weight:400;transform:translateX(-50%) ;transform-origin:0 0;">2 - 15</div><div style="position:absolute;left:52.6px;top:882.1px;line-height:1;white-space:nowrap;color:#3a1606;font-family:'Liberation Sans', Arial, sans-serif;font-size:9.4px;font-weight:700;transform:scaleX(0.9911);transform-origin:0 0;">Fuerte</div><div style="position:absolute;left:136.2px;top:882.5px;line-height:1;white-space:nowrap;color:#333;font-family:'Liberation Sans', Arial, sans-serif;font-size:10.4px;font-weight:400;transform:translateX(-50%) ;transform-origin:0 0;">15 - 30</div><div style="position:absolute;left:52.6px;top:908.4px;line-height:1;white-space:nowrap;color:#4a0606;font-family:'Liberation Sans', Arial, sans-serif;font-size:9.4px;font-weight:700;transform:scaleX(1.0336);transform-origin:0 0;">Muy fuerte</div><div style="position:absolute;left:136.2px;top:908.8px;line-height:1;white-space:nowrap;color:#333;font-family:'Liberation Sans', Arial, sans-serif;font-size:10.4px;font-weight:400;transform:translateX(-50%) ;transform-origin:0 0;">30 - 45</div><div style="position:absolute;left:52.6px;top:934.7px;line-height:1;white-space:nowrap;color:#1e0a5c;font-family:'Liberation Sans', Arial, sans-serif;font-size:9.4px;font-weight:700;transform:scaleX(1.0058);transform-origin:0 0;">Torrencial</div><div style="position:absolute;left:136.2px;top:935.1px;line-height:1;white-space:nowrap;color:#333;font-family:'Liberation Sans', Arial, sans-serif;font-size:10.4px;font-weight:400;transform:translateX(-50%) ;transform-origin:0 0;">&gt; 60</div><div style="position:absolute;left:341.6px;top:141.8px;line-height:1;white-space:nowrap;color:#2bb2aa;font-family:'Liberation Sans', Arial, sans-serif;font-size:14px;font-weight:700;transform:scaleX(1.0481);transform-origin:0 0;">Periférica</div><div style="position:absolute;left:371.4px;top:157.4px;line-height:1;white-space:nowrap;color:#2bb2aa;font-family:'Liberation Sans', Arial, sans-serif;font-size:14px;font-weight:700;">0</div><div style="position:absolute;left:160.4px;top:182.7px;line-height:1;white-space:nowrap;color:#2bb2aa;font-family:'Liberation Sans', Arial, sans-serif;font-size:14px;font-weight:700;transform:scaleX(1.0338);transform-origin:0 0;">Max Paredes</div><div style="position:absolute;left:195.5px;top:199.4px;line-height:1;white-space:nowrap;color:#2bb2aa;font-family:'Liberation Sans', Arial, sans-serif;font-size:14px;font-weight:700;">2</div><div style="position:absolute;left:410.4px;top:192.6px;line-height:1;white-space:nowrap;color:#2bb2aa;font-family:'Liberation Sans', Arial, sans-serif;font-size:14px;font-weight:700;transform:scaleX(1.0254);transform-origin:0 0;">San Antonio</div><div style="position:absolute;left:448.5px;top:207.1px;line-height:1;white-space:nowrap;color:#2bb2aa;font-family:'Liberation Sans', Arial, sans-serif;font-size:14px;font-weight:700;">0</div><div style="position:absolute;left:513.5px;top:275.4px;line-height:1;white-space:nowrap;color:#2bb2aa;font-family:'Liberation Sans', Arial, sans-serif;font-size:14px;font-weight:700;transform:scaleX(0.8996);transform-origin:0 0;">Sur</div><div style="position:absolute;left:521.0px;top:291.8px;line-height:1;white-space:nowrap;color:#2bb2aa;font-family:'Liberation Sans', Arial, sans-serif;font-size:14px;font-weight:700;">0</div><div style="position:absolute;left:205.4px;top:278.0px;line-height:1;white-space:nowrap;color:#2bb2aa;font-family:'Liberation Sans', Arial, sans-serif;font-size:14px;font-weight:700;transform:scaleX(1.0547);transform-origin:0 0;">Cotahuma</div><div style="position:absolute;left:238.0px;top:293.6px;line-height:1;white-space:nowrap;color:#2bb2aa;font-family:'Liberation Sans', Arial, sans-serif;font-size:14px;font-weight:700;">0</div><div style="position:absolute;left:286.3px;top:373.1px;line-height:1;white-space:nowrap;color:#2bb2aa;font-family:'Liberation Sans', Arial, sans-serif;font-size:14px;font-weight:700;transform:scaleX(1.0393);transform-origin:0 0;">Centro</div><div style="position:absolute;left:306.5px;top:388.4px;line-height:1;white-space:nowrap;color:#2bb2aa;font-family:'Liberation Sans', Arial, sans-serif;font-size:14px;font-weight:700;">0</div><div style="position:absolute;left:506.6px;top:408.3px;line-height:1;white-space:nowrap;color:#2bb2aa;font-family:'Liberation Sans', Arial, sans-serif;font-size:14px;font-weight:700;transform:scaleX(1.0416);transform-origin:0 0;">Mallasa</div><div style="position:absolute;left:505.0px;top:422.8px;line-height:1;white-space:nowrap;color:#2bb2aa;font-family:'Liberation Sans', Arial, sans-serif;font-size:14px;font-weight:700;">0</div><div style="position:absolute;left:105.0px;top:317.5px;line-height:1;white-space:nowrap;color:#2bb2aa;font-family:'Liberation Sans', Arial, sans-serif;font-size:14px;font-weight:700;transform:scaleX(0.9751);transform-origin:0 0;">Zongo</div><div style="position:absolute;left:125.0px;top:334.4px;line-height:1;white-space:nowrap;color:#2bb2aa;font-family:'Liberation Sans', Arial, sans-serif;font-size:14px;font-weight:700;">0</div><div style="position:absolute;left:179.2px;top:388.5px;line-height:1;white-space:nowrap;color:#2bb2aa;font-family:'Liberation Sans', Arial, sans-serif;font-size:14px;font-weight:700;transform:scaleX(1.0688);transform-origin:0 0;">Hampaturi</div><div style="position:absolute;left:214.3px;top:409.4px;line-height:1;white-space:nowrap;color:#2bb2aa;font-family:'Liberation Sans', Arial, sans-serif;font-size:14px;font-weight:700;">0</div><div style="position:absolute;left:176.0px;top:843.6px;line-height:1;white-space:nowrap;color:#1e1e1e;font-family:'Liberation Sans', Arial, sans-serif;font-size:8.2px;font-weight:700;transform:scaleX(1.0011);transform-origin:0 0;">Plaza Murillo</div><div style="position:absolute;left:315.6px;top:907.3px;line-height:1;white-space:nowrap;color:#1e1e1e;font-family:'Liberation Sans', Arial, sans-serif;font-size:8.2px;font-weight:700;transform:scaleX(1.0042);transform-origin:0 0;">San Miguel</div><div style="position:absolute;left:337.4px;top:613.7px;line-height:1;white-space:nowrap;color:#222;font-family:'Liberation Sans', Arial, sans-serif;font-size:13.4px;font-weight:400;transform:scaleX(0.9940);transform-origin:0 0;">Choqueyapu</div><div style="position:absolute;left:420.9px;top:613.9px;line-height:1;white-space:nowrap;color:#1c1c1c;font-family:'Liberation Sans', Arial, sans-serif;font-size:16.3px;font-weight:700;transform:scaleX(1.0762);transform-origin:0 0;">&lt;1,0 mm/h</div><div style="position:absolute;left:414.2px;top:650.5px;line-height:1;white-space:nowrap;color:#222;font-family:'Liberation Sans', Arial, sans-serif;font-size:13.4px;font-weight:400;transform:scaleX(1.0499);transform-origin:0 0;">Orkhojahuira</div><div style="position:absolute;left:503.7px;top:648.7px;line-height:1;white-space:nowrap;color:#1c1c1c;font-family:'Liberation Sans', Arial, sans-serif;font-size:16.3px;font-weight:700;transform:scaleX(1.0775);transform-origin:0 0;">&lt;1,0 mm/h</div><div style="position:absolute;left:489.2px;top:764.2px;line-height:1;white-space:nowrap;color:#222;font-family:'Liberation Sans', Arial, sans-serif;font-size:13.4px;font-weight:400;transform:scaleX(1.0015);transform-origin:0 0;">Irpavi</div><div style="position:absolute;left:527.0px;top:763.2px;line-height:1;white-space:nowrap;color:#1c1c1c;font-family:'Liberation Sans', Arial, sans-serif;font-size:16.3px;font-weight:700;transform:scaleX(1.0907);transform-origin:0 0;">1,3 mm/h</div><div style="position:absolute;left:438.6px;top:843.2px;line-height:1;white-space:nowrap;color:#222;font-family:'Liberation Sans', Arial, sans-serif;font-size:13.4px;font-weight:400;transform:scaleX(1.0009);transform-origin:0 0;">Achumani</div><div style="position:absolute;left:504.2px;top:841.7px;line-height:1;white-space:nowrap;color:#1c1c1c;font-family:'Liberation Sans', Arial, sans-serif;font-size:16.3px;font-weight:700;transform:scaleX(1.0812);transform-origin:0 0;">&lt;1,0 mm/h</div><div style="position:absolute;left:422.0px;top:879.2px;line-height:1;white-space:nowrap;color:#222;font-family:'Liberation Sans', Arial, sans-serif;font-size:13.4px;font-weight:400;transform:scaleX(0.9382);transform-origin:0 0;">Jilusaya</div><div style="position:absolute;left:471.9px;top:878.0px;line-height:1;white-space:nowrap;color:#1c1c1c;font-family:'Liberation Sans', Arial, sans-serif;font-size:16.3px;font-weight:700;transform:scaleX(1.0750);transform-origin:0 0;">&lt;1,0 mm/h</div><div style="position:absolute;left:404.4px;top:910.7px;line-height:1;white-space:nowrap;color:#222;font-family:'Liberation Sans', Arial, sans-serif;font-size:13.4px;font-weight:400;transform:scaleX(1.0132);transform-origin:0 0;">Huayñajahuira</div><div style="position:absolute;left:497.6px;top:909.5px;line-height:1;white-space:nowrap;color:#1c1c1c;font-family:'Liberation Sans', Arial, sans-serif;font-size:16.3px;font-weight:700;transform:scaleX(1.0762);transform-origin:0 0;">&lt;1,0 mm/h</div><div style="position:absolute;left:289.5px;top:981.0px;line-height:1;white-space:nowrap;color:#f2fffe;font-family:'Liberation Sans', Arial, sans-serif;font-size:23.2px;font-weight:400;transform:scaleX(0.9716);transform-origin:0 0;">Registro de niveles en ríos del municipio</div><div style="position:absolute;left:46.0px;top:989.0px;line-height:1;white-space:nowrap;color:#333;font-family:'Liberation Sans', Arial, sans-serif;font-size:14.6px;font-weight:700;transform:scaleX(0.9362);transform-origin:0 0;">PARÁMETROS DE <span style="color:#3cb6c2">NIVELES</span></div><div style="position:absolute;left:57.5px;top:1035.3px;line-height:1;white-space:nowrap;color:#3a0508;font-family:'Liberation Sans', Arial, sans-serif;font-size:8.6px;font-weight:700;transform:translateX(-50%) scaleX(0.7659);transform-origin:0 0;">Nivel rojo</div><div style="position:absolute;left:57.5px;top:1064.6px;line-height:1;white-space:nowrap;color:#2a0c02;font-family:'Liberation Sans', Arial, sans-serif;font-size:8.6px;font-weight:700;transform:translateX(-50%) scaleX(0.8678);transform-origin:0 0;">Nivel&nbsp; naranja</div><div style="position:absolute;left:57.5px;top:1094.5px;line-height:1;white-space:nowrap;color:#2a2602;font-family:'Liberation Sans', Arial, sans-serif;font-size:8.6px;font-weight:700;transform:translateX(-50%) scaleX(0.8320);transform-origin:0 0;">Nivel amarillo</div><div style="position:absolute;left:98.8px;top:1028.0px;line-height:1;white-space:nowrap;color:#3a3a3a;font-family:'Liberation Sans', Arial, sans-serif;font-size:10.6px;font-weight:400;transform:scaleX(0.8796);transform-origin:0 0;">Niveles extraordinarios con</div><div style="position:absolute;left:98.8px;top:1041.8px;line-height:1;white-space:nowrap;color:#3a3a3a;font-family:'Liberation Sans', Arial, sans-serif;font-size:10.6px;font-weight:400;transform:scaleX(0.8599);transform-origin:0 0;">desbordes y ondas pulsantes</div><div style="position:absolute;left:98.8px;top:1057.5px;line-height:1;white-space:nowrap;color:#3a3a3a;font-family:'Liberation Sans', Arial, sans-serif;font-size:10.6px;font-weight:400;transform:scaleX(0.8685);transform-origin:0 0;">Incrementos significativos y</div><div style="position:absolute;left:98.8px;top:1071.2px;line-height:1;white-space:nowrap;color:#3a3a3a;font-family:'Liberation Sans', Arial, sans-serif;font-size:10.6px;font-weight:400;transform:scaleX(0.8598);transform-origin:0 0;">posibles desbordes</div><div style="position:absolute;left:98.8px;top:1086.3px;line-height:1;white-space:nowrap;color:#3a3a3a;font-family:'Liberation Sans', Arial, sans-serif;font-size:10.6px;font-weight:400;transform:scaleX(0.8591);transform-origin:0 0;">Niveles normales, sin</div><div style="position:absolute;left:98.8px;top:1100.6px;line-height:1;white-space:nowrap;color:#3a3a3a;font-family:'Liberation Sans', Arial, sans-serif;font-size:10.6px;font-weight:400;transform:scaleX(0.8740);transform-origin:0 0;">incrementos significativos</div><div style="position:absolute;left:98.8px;top:1121.4px;line-height:1;white-space:nowrap;color:#3a3a3a;font-family:'Liberation Sans', Arial, sans-serif;font-size:10.6px;font-weight:400;transform:scaleX(0.8566);transform-origin:0 0;">Ondas pulsantes en los ríos</div><div style="position:absolute;left:98.8px;top:1141.2px;line-height:1;white-space:nowrap;color:#3a3a3a;font-family:'Liberation Sans', Arial, sans-serif;font-size:10.6px;font-weight:400;transform:scaleX(0.8327);transform-origin:0 0;">Niveles de aguas en los ríos, sin</div><div style="position:absolute;left:98.8px;top:1155.0px;line-height:1;white-space:nowrap;color:#3a3a3a;font-family:'Liberation Sans', Arial, sans-serif;font-size:10.6px;font-weight:400;transform:scaleX(0.8617);transform-origin:0 0;">ondas pulsantes</div><div style="position:absolute;left:16.0px;top:1190.3px;line-height:1;white-space:nowrap;color:#222;font-family:'Liberation Sans', Arial, sans-serif;font-size:11.2px;font-weight:400;transform:scaleX(1.0062);transform-origin:0 0;">Datos generados por la Unidad de Sistema de Alerta Temprana</div><div style="position:absolute;left:268.4px;top:1164.4px;line-height:1;white-space:nowrap;color:#333;font-family:'Liberation Sans', Arial, sans-serif;font-size:11px;font-weight:700;transform:scaleX(0.9224);transform-origin:0 0;">CHOQUEYAPU</div><div style="position:absolute;left:357.6px;top:1164.4px;line-height:1;white-space:nowrap;color:#333;font-family:'Liberation Sans', Arial, sans-serif;font-size:11px;font-weight:700;transform:scaleX(0.8960);transform-origin:0 0;">ORKHOJAHUIRA</div><div style="position:absolute;left:480.5px;top:1164.4px;line-height:1;white-space:nowrap;color:#333;font-family:'Liberation Sans', Arial, sans-serif;font-size:11px;font-weight:700;transform:scaleX(0.9273);transform-origin:0 0;">IRPAVI</div><div style="position:absolute;left:546.0px;top:1164.4px;line-height:1;white-space:nowrap;color:#333;font-family:'Liberation Sans', Arial, sans-serif;font-size:11px;font-weight:700;transform:scaleX(0.9601);transform-origin:0 0;">ACHUMANI</div><div style="position:absolute;left:627.5px;top:1164.4px;line-height:1;white-space:nowrap;color:#333;font-family:'Liberation Sans', Arial, sans-serif;font-size:11px;font-weight:700;transform:scaleX(0.9257);transform-origin:0 0;">HUAYÑAJAHUIRA</div><div style="position:absolute;left:737.8px;top:1165.0px;line-height:1;white-space:nowrap;color:#333;font-family:'Liberation Sans', Arial, sans-serif;font-size:11px;font-weight:700;transform:scaleX(1.0015);transform-origin:0 0;">RÍO LA PAZ</div><div style="position:absolute;left:224.0px;top:1253.6px;line-height:1;white-space:nowrap;color:#b9a888;font-family:'Liberation Sans', Arial, sans-serif;font-size:3.6px;font-weight:700;transform:scaleX(1.0366);transform-origin:0 0;">GOBIERNO AUTÓNOMO MUNICIPAL DE LA PAZ</div><div style="position:absolute;left:223.5px;top:1231.5px;line-height:1;white-space:nowrap;color:#a8936b;font-family:'Liberation Serif', serif;font-size:25px;font-weight:400;transform:scaleX(0.9701);transform-origin:0 0;">GAMLP</div><div style="position:absolute;left:367.6px;top:1233.8px;line-height:1;white-space:nowrap;color:#fff;font-family:'Liberation Sans', Arial, sans-serif;font-size:14.4px;font-weight:700;transform:scaleX(0.9256);transform-origin:0 0;">La Paz</div><div style="position:absolute;left:357.4px;top:1268.0px;line-height:1;white-space:nowrap;color:#7a7a7a;font-family:'Liberation Sans', Arial, sans-serif;font-size:3.8px;font-weight:700;transform:scaleX(0.9344);transform-origin:0 0;">GOBIERNO AUTÓNOMO MUNICIPAL</div><div style="position:absolute;left:434.1px;top:1236.7px;line-height:1;white-space:nowrap;color:#8c8c8c;font-family:'Liberation Sans', Arial, sans-serif;font-size:8.2px;font-weight:400;transform:scaleX(0.9940);transform-origin:0 0;">Secretaría Municipal de</div><div style="position:absolute;left:443.6px;top:1244.5px;line-height:1;white-space:nowrap;color:#46b9bf;font-family:'Liberation Sans', Arial, sans-serif;font-size:9.6px;font-weight:700;transform:scaleX(0.9092);transform-origin:0 0;">Gestión Integral</div><div style="position:absolute;left:453.8px;top:1254.7px;line-height:1;white-space:nowrap;color:#46b9bf;font-family:'Liberation Sans', Arial, sans-serif;font-size:9.6px;font-weight:700;transform:scaleX(0.8869);transform-origin:0 0;">de Riesgos</div><div style="position:absolute;left:577.5px;top:1220.9px;line-height:1;white-space:nowrap;color:#fff;font-family:'Liberation Sans', Arial, sans-serif;font-size:11.5px;font-weight:700;font-style:italic;transform:scaleX(0.9884);transform-origin:0 0;">RED</div><div style="position:absolute;left:603.0px;top:1216.0px;line-height:1;white-space:nowrap;color:#fff;font-family:'Liberation Sans', Arial, sans-serif;font-size:46.5px;font-weight:700;font-style:italic;letter-spacing:-2px;transform:scaleX(0.8952);transform-origin:0 0;-webkit-text-stroke:1.2px #fff;">114</div><div style="position:absolute;left:576.7px;top:1257.3px;line-height:1;white-space:nowrap;color:#fff;font-family:'Liberation Sans', Arial, sans-serif;font-size:8.4px;font-weight:700;font-style:italic;transform:scaleX(1.0114);transform-origin:0 0;">Línea de emergencia</div>
</body></html>
